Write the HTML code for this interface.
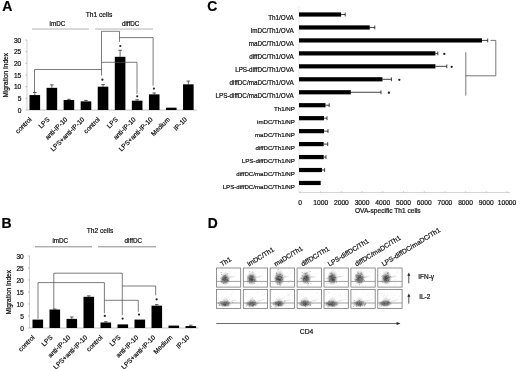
<!DOCTYPE html>
<html><head><meta charset="utf-8"><title>Figure</title>
<style>
html,body{margin:0;padding:0;background:#fff;}
body{width:520px;height:369px;overflow:hidden;}
svg{display:block;filter:blur(0.35px);}
svg text{font-family:"Liberation Sans",sans-serif;stroke:#000;stroke-width:0.2px;paint-order:stroke;}
</style></head><body>
<svg width="520" height="369" viewBox="0 0 520 369">
<rect width="520" height="369" fill="#fff"/>
<text x="2.3" y="10.8" font-size="14" text-anchor="start" font-weight="bold" fill="#000">A</text>
<text x="99.0" y="17.3" font-size="6.65" text-anchor="middle" font-weight="normal" fill="#111">Th1 cells</text>
<text x="57.38999999999999" y="26.3" font-size="6.3" text-anchor="middle" font-weight="normal" fill="#111">imDC</text>
<text x="130.63" y="26.3" font-size="6.3" text-anchor="middle" font-weight="normal" fill="#111">diffDC</text>
<line x1="32.0" y1="29.0" x2="89.0" y2="29.0" stroke="#999" stroke-width="0.75"/>
<line x1="95.0" y1="29.0" x2="153.0" y2="29.0" stroke="#999" stroke-width="0.75"/>
<line x1="27.0" y1="40.0" x2="27.0" y2="110.0" stroke="#bbb" stroke-width="0.7"/>
<line x1="27.0" y1="110.0" x2="197.0" y2="110.0" stroke="#aaa" stroke-width="0.7"/>
<line x1="25.5" y1="110.0" x2="27.0" y2="110.0" stroke="#999" stroke-width="0.6"/>
<text x="21.3" y="112.7" font-size="6.6" text-anchor="end" font-weight="normal" fill="#111">0</text>
<line x1="25.5" y1="98.33333333333333" x2="27.0" y2="98.33333333333333" stroke="#999" stroke-width="0.6"/>
<text x="21.3" y="101.03333333333333" font-size="6.6" text-anchor="end" font-weight="normal" fill="#111">5</text>
<line x1="25.5" y1="86.66666666666666" x2="27.0" y2="86.66666666666666" stroke="#999" stroke-width="0.6"/>
<text x="21.3" y="89.36666666666666" font-size="6.6" text-anchor="end" font-weight="normal" fill="#111">10</text>
<line x1="25.5" y1="75.0" x2="27.0" y2="75.0" stroke="#999" stroke-width="0.6"/>
<text x="21.3" y="77.7" font-size="6.6" text-anchor="end" font-weight="normal" fill="#111">15</text>
<line x1="25.5" y1="63.33333333333333" x2="27.0" y2="63.33333333333333" stroke="#999" stroke-width="0.6"/>
<text x="21.3" y="66.03333333333333" font-size="6.6" text-anchor="end" font-weight="normal" fill="#111">20</text>
<line x1="25.5" y1="51.666666666666664" x2="27.0" y2="51.666666666666664" stroke="#999" stroke-width="0.6"/>
<text x="21.3" y="54.36666666666667" font-size="6.6" text-anchor="end" font-weight="normal" fill="#111">25</text>
<line x1="25.5" y1="40.0" x2="27.0" y2="40.0" stroke="#999" stroke-width="0.6"/>
<text x="21.3" y="42.7" font-size="6.6" text-anchor="end" font-weight="normal" fill="#111">30</text>
<text x="8.1" y="75.3" font-size="6.5" text-anchor="middle" font-weight="normal" fill="#111" transform="rotate(-90 8.1 75.3)">Migration Index</text>
<rect x="29.50" y="95.07" width="10.60" height="14.93" fill="#000"/>
<line x1="34.8" y1="95.06666666666666" x2="34.8" y2="92.5" stroke="#222" stroke-width="0.7"/>
<line x1="33.0" y1="92.5" x2="36.599999999999994" y2="92.5" stroke="#222" stroke-width="0.7"/>
<text x="32.099999999999994" y="119.9" font-size="6.6" text-anchor="end" font-weight="normal" fill="#111" transform="rotate(-45 32.099999999999994 119.9)">control</text>
<rect x="46.56" y="87.83" width="10.60" height="22.17" fill="#000"/>
<line x1="51.86" y1="87.83333333333333" x2="51.86" y2="84.8" stroke="#222" stroke-width="0.7"/>
<line x1="50.06" y1="84.8" x2="53.66" y2="84.8" stroke="#222" stroke-width="0.7"/>
<text x="50.06" y="119.9" font-size="6.6" text-anchor="end" font-weight="normal" fill="#111" transform="rotate(-45 50.06 119.9)">LPS</text>
<rect x="63.62" y="99.97" width="10.60" height="10.03" fill="#000"/>
<line x1="68.92" y1="99.96666666666667" x2="68.92" y2="99.26666666666667" stroke="#222" stroke-width="0.7"/>
<line x1="67.12" y1="99.26666666666667" x2="70.72" y2="99.26666666666667" stroke="#222" stroke-width="0.7"/>
<text x="67.92" y="119.9" font-size="6.6" text-anchor="end" font-weight="normal" fill="#111" transform="rotate(-45 67.92 119.9)">anti-IP-10</text>
<rect x="80.68" y="101.37" width="10.60" height="8.63" fill="#000"/>
<line x1="85.97999999999999" y1="101.36666666666666" x2="85.97999999999999" y2="100.43333333333332" stroke="#222" stroke-width="0.7"/>
<line x1="84.17999999999999" y1="100.43333333333332" x2="87.77999999999999" y2="100.43333333333332" stroke="#222" stroke-width="0.7"/>
<text x="84.97999999999999" y="119.9" font-size="6.6" text-anchor="end" font-weight="normal" fill="#111" transform="rotate(-45 84.97999999999999 119.9)">LPS+anti-IP-10</text>
<rect x="97.74" y="86.67" width="10.60" height="23.33" fill="#000"/>
<line x1="103.03999999999999" y1="86.66666666666666" x2="103.03999999999999" y2="84.56666666666666" stroke="#222" stroke-width="0.7"/>
<line x1="101.24" y1="84.56666666666666" x2="104.83999999999999" y2="84.56666666666666" stroke="#222" stroke-width="0.7"/>
<text x="100.33999999999999" y="119.9" font-size="6.6" text-anchor="end" font-weight="normal" fill="#111" transform="rotate(-45 100.33999999999999 119.9)">control</text>
<rect x="114.80" y="56.80" width="10.60" height="53.20" fill="#000"/>
<line x1="120.1" y1="56.8" x2="120.1" y2="50.266666666666666" stroke="#222" stroke-width="0.7"/>
<line x1="118.3" y1="50.266666666666666" x2="121.89999999999999" y2="50.266666666666666" stroke="#222" stroke-width="0.7"/>
<text x="118.3" y="119.9" font-size="6.6" text-anchor="end" font-weight="normal" fill="#111" transform="rotate(-45 118.3 119.9)">LPS</text>
<rect x="131.86" y="100.67" width="10.60" height="9.33" fill="#000"/>
<line x1="137.16" y1="100.66666666666667" x2="137.16" y2="99.73333333333333" stroke="#222" stroke-width="0.7"/>
<line x1="135.35999999999999" y1="99.73333333333333" x2="138.96" y2="99.73333333333333" stroke="#222" stroke-width="0.7"/>
<text x="136.16" y="119.9" font-size="6.6" text-anchor="end" font-weight="normal" fill="#111" transform="rotate(-45 136.16 119.9)">anti-IP-10</text>
<rect x="148.92" y="94.37" width="10.60" height="15.63" fill="#000"/>
<line x1="154.22" y1="94.36666666666666" x2="154.22" y2="92.96666666666665" stroke="#222" stroke-width="0.7"/>
<line x1="152.42" y1="92.96666666666665" x2="156.02" y2="92.96666666666665" stroke="#222" stroke-width="0.7"/>
<text x="153.22" y="119.9" font-size="6.6" text-anchor="end" font-weight="normal" fill="#111" transform="rotate(-45 153.22 119.9)">LPS+anti-IP-10</text>
<rect x="165.98" y="107.67" width="10.60" height="2.33" fill="#000"/>
<text x="170.28" y="119.9" font-size="6.6" text-anchor="end" font-weight="normal" fill="#111" transform="rotate(-45 170.28 119.9)">Medium</text>
<rect x="183.04" y="84.33" width="10.60" height="25.67" fill="#000"/>
<line x1="188.34" y1="84.33333333333333" x2="188.34" y2="81.06666666666666" stroke="#222" stroke-width="0.7"/>
<line x1="186.54" y1="81.06666666666666" x2="190.14000000000001" y2="81.06666666666666" stroke="#222" stroke-width="0.7"/>
<text x="187.34" y="119.9" font-size="6.6" text-anchor="end" font-weight="normal" fill="#111" transform="rotate(-45 187.34 119.9)">IP-10</text>
<polyline points="34.50,92.00 34.50,69.50 101.50,69.50" fill="none" stroke="#505050" stroke-width="0.75"/>
<polyline points="101.50,75.60 101.50,31.30 119.50,31.30 119.50,41.90" fill="none" stroke="#505050" stroke-width="0.75"/>
<polyline points="119.50,37.60 153.10,37.60 153.10,85.60" fill="none" stroke="#505050" stroke-width="0.75"/>
<polyline points="101.50,62.30 137.00,62.30 137.00,93.70" fill="none" stroke="#505050" stroke-width="0.75"/>
<circle cx="102.40" cy="79.70" r="1.1" fill="#222"/>
<circle cx="120.30" cy="46.00" r="1.1" fill="#222"/>
<circle cx="153.90" cy="88.60" r="1.1" fill="#222"/>
<circle cx="137.20" cy="96.30" r="1.1" fill="#222"/>
<text x="1.6" y="228.2" font-size="14" text-anchor="start" font-weight="bold" fill="#000">B</text>
<text x="100.0" y="233.3" font-size="6.65" text-anchor="middle" font-weight="normal" fill="#111">Th2 cells</text>
<text x="60.3" y="243.0" font-size="6.3" text-anchor="middle" font-weight="normal" fill="#111">imDC</text>
<text x="133.3" y="243.0" font-size="6.3" text-anchor="middle" font-weight="normal" fill="#111">diffDC</text>
<line x1="35.0" y1="246.8" x2="92.0" y2="246.8" stroke="#666" stroke-width="0.75"/>
<line x1="98.0" y1="246.8" x2="156.0" y2="246.8" stroke="#666" stroke-width="0.75"/>
<line x1="29.5" y1="256.0" x2="29.5" y2="328.0" stroke="#bbb" stroke-width="0.7"/>
<line x1="29.5" y1="328.0" x2="198.6" y2="328.0" stroke="#aaa" stroke-width="0.7"/>
<line x1="28.0" y1="328.0" x2="29.5" y2="328.0" stroke="#999" stroke-width="0.6"/>
<text x="23.8" y="330.7" font-size="6.6" text-anchor="end" font-weight="normal" fill="#111">0</text>
<line x1="28.0" y1="316.0" x2="29.5" y2="316.0" stroke="#999" stroke-width="0.6"/>
<text x="23.8" y="318.7" font-size="6.6" text-anchor="end" font-weight="normal" fill="#111">5</text>
<line x1="28.0" y1="304.0" x2="29.5" y2="304.0" stroke="#999" stroke-width="0.6"/>
<text x="23.8" y="306.7" font-size="6.6" text-anchor="end" font-weight="normal" fill="#111">10</text>
<line x1="28.0" y1="292.0" x2="29.5" y2="292.0" stroke="#999" stroke-width="0.6"/>
<text x="23.8" y="294.7" font-size="6.6" text-anchor="end" font-weight="normal" fill="#111">15</text>
<line x1="28.0" y1="280.0" x2="29.5" y2="280.0" stroke="#999" stroke-width="0.6"/>
<text x="23.8" y="282.7" font-size="6.6" text-anchor="end" font-weight="normal" fill="#111">20</text>
<line x1="28.0" y1="268.0" x2="29.5" y2="268.0" stroke="#999" stroke-width="0.6"/>
<text x="23.8" y="270.7" font-size="6.6" text-anchor="end" font-weight="normal" fill="#111">25</text>
<line x1="28.0" y1="256.0" x2="29.5" y2="256.0" stroke="#999" stroke-width="0.6"/>
<text x="23.8" y="258.7" font-size="6.6" text-anchor="end" font-weight="normal" fill="#111">30</text>
<text x="10.8" y="292.3" font-size="6.5" text-anchor="middle" font-weight="normal" fill="#111" transform="rotate(-90 10.8 292.3)">Migration Index</text>
<rect x="32.50" y="319.60" width="10.60" height="8.40" fill="#000"/>
<text x="35.099999999999994" y="337.9" font-size="6.6" text-anchor="end" font-weight="normal" fill="#111" transform="rotate(-45 35.099999999999994 337.9)">control</text>
<rect x="49.50" y="309.52" width="10.60" height="18.48" fill="#000"/>
<line x1="54.8" y1="309.52" x2="54.8" y2="309.03999999999996" stroke="#222" stroke-width="0.7"/>
<line x1="53.0" y1="309.03999999999996" x2="56.599999999999994" y2="309.03999999999996" stroke="#222" stroke-width="0.7"/>
<text x="53.0" y="337.9" font-size="6.6" text-anchor="end" font-weight="normal" fill="#111" transform="rotate(-45 53.0 337.9)">LPS</text>
<rect x="66.50" y="318.88" width="10.60" height="9.12" fill="#000"/>
<line x1="71.8" y1="318.88" x2="71.8" y2="316.96" stroke="#222" stroke-width="0.7"/>
<line x1="70.0" y1="316.96" x2="73.6" y2="316.96" stroke="#222" stroke-width="0.7"/>
<text x="70.8" y="337.9" font-size="6.6" text-anchor="end" font-weight="normal" fill="#111" transform="rotate(-45 70.8 337.9)">anti-IP-10</text>
<rect x="83.50" y="296.80" width="10.60" height="31.20" fill="#000"/>
<line x1="88.8" y1="296.8" x2="88.8" y2="295.84000000000003" stroke="#222" stroke-width="0.7"/>
<line x1="87.0" y1="295.84000000000003" x2="90.6" y2="295.84000000000003" stroke="#222" stroke-width="0.7"/>
<text x="87.8" y="337.9" font-size="6.6" text-anchor="end" font-weight="normal" fill="#111" transform="rotate(-45 87.8 337.9)">LPS+anti-IP-10</text>
<rect x="100.50" y="322.48" width="10.60" height="5.52" fill="#000"/>
<line x1="105.8" y1="322.48" x2="105.8" y2="321.76" stroke="#222" stroke-width="0.7"/>
<line x1="104.0" y1="321.76" x2="107.6" y2="321.76" stroke="#222" stroke-width="0.7"/>
<text x="103.1" y="337.9" font-size="6.6" text-anchor="end" font-weight="normal" fill="#111" transform="rotate(-45 103.1 337.9)">control</text>
<rect x="117.50" y="324.40" width="10.60" height="3.60" fill="#000"/>
<text x="121.0" y="337.9" font-size="6.6" text-anchor="end" font-weight="normal" fill="#111" transform="rotate(-45 121.0 337.9)">LPS</text>
<rect x="134.50" y="319.60" width="10.60" height="8.40" fill="#000"/>
<text x="138.8" y="337.9" font-size="6.6" text-anchor="end" font-weight="normal" fill="#111" transform="rotate(-45 138.8 337.9)">anti-IP-10</text>
<rect x="151.50" y="305.68" width="10.60" height="22.32" fill="#000"/>
<line x1="156.8" y1="305.68" x2="156.8" y2="304.6" stroke="#222" stroke-width="0.7"/>
<line x1="155.0" y1="304.6" x2="158.60000000000002" y2="304.6" stroke="#222" stroke-width="0.7"/>
<text x="155.8" y="337.9" font-size="6.6" text-anchor="end" font-weight="normal" fill="#111" transform="rotate(-45 155.8 337.9)">LPS+anti-IP-10</text>
<rect x="168.50" y="325.60" width="10.60" height="2.40" fill="#000"/>
<text x="172.8" y="337.9" font-size="6.6" text-anchor="end" font-weight="normal" fill="#111" transform="rotate(-45 172.8 337.9)">Medium</text>
<rect x="185.50" y="326.08" width="10.60" height="1.92" fill="#000"/>
<line x1="190.8" y1="326.08" x2="190.8" y2="325.24" stroke="#222" stroke-width="0.7"/>
<line x1="189.0" y1="325.24" x2="192.60000000000002" y2="325.24" stroke="#222" stroke-width="0.7"/>
<text x="189.8" y="337.9" font-size="6.6" text-anchor="end" font-weight="normal" fill="#111" transform="rotate(-45 189.8 337.9)">IP-10</text>
<polyline points="38.00,318.80 38.00,282.60 104.40,282.60 104.40,313.20" fill="none" stroke="#505050" stroke-width="0.75"/>
<polyline points="53.80,309.00 53.80,273.20 122.30,273.20 122.30,315.20" fill="none" stroke="#505050" stroke-width="0.75"/>
<polyline points="122.30,286.00 155.70,286.00 155.70,295.30" fill="none" stroke="#505050" stroke-width="0.75"/>
<polyline points="104.40,300.30 138.30,300.30 138.30,311.80" fill="none" stroke="#505050" stroke-width="0.75"/>
<circle cx="104.80" cy="315.90" r="1.1" fill="#222"/>
<circle cx="122.60" cy="318.60" r="1.1" fill="#222"/>
<circle cx="139.00" cy="314.60" r="1.1" fill="#222"/>
<circle cx="156.60" cy="299.30" r="1.1" fill="#222"/>
<text x="207.3" y="10.6" font-size="13.8" text-anchor="start" font-weight="bold" fill="#000">C</text>
<line x1="299.0" y1="6" x2="299.0" y2="192.5" stroke="#ddd" stroke-width="0.7"/>
<line x1="299.0" y1="192.5" x2="510" y2="192.5" stroke="#c4c4c4" stroke-width="0.7"/>
<text x="293.7" y="20.1" font-size="6.3" text-anchor="end" font-weight="normal" fill="#111">Th1/OVA</text>
<rect x="299.00" y="12.40" width="42.10" height="4.20" fill="#000"/>
<line x1="341.1" y1="14.5" x2="345.2" y2="14.5" stroke="#111" stroke-width="0.8"/>
<line x1="345.2" y1="12.6" x2="345.2" y2="16.4" stroke="#111" stroke-width="0.8"/>
<text x="293.7" y="33.06" font-size="6.3" text-anchor="end" font-weight="normal" fill="#111">imDC/Th1/OVA</text>
<rect x="299.00" y="25.36" width="70.80" height="4.20" fill="#000"/>
<line x1="369.8" y1="27.46" x2="374.8" y2="27.46" stroke="#111" stroke-width="0.8"/>
<line x1="374.8" y1="25.560000000000002" x2="374.8" y2="29.36" stroke="#111" stroke-width="0.8"/>
<text x="293.7" y="46.02" font-size="6.3" text-anchor="end" font-weight="normal" fill="#111">maDC/Th1/OVA</text>
<rect x="299.00" y="38.32" width="183.00" height="4.20" fill="#000"/>
<line x1="482" y1="40.42" x2="487.7" y2="40.42" stroke="#111" stroke-width="0.8"/>
<line x1="487.7" y1="38.52" x2="487.7" y2="42.32" stroke="#111" stroke-width="0.8"/>
<text x="293.7" y="58.980000000000004" font-size="6.3" text-anchor="end" font-weight="normal" fill="#111">diffDC/Th1/OVA</text>
<rect x="299.00" y="51.28" width="136.40" height="4.20" fill="#000"/>
<line x1="435.4" y1="53.38" x2="437.8" y2="53.38" stroke="#111" stroke-width="0.8"/>
<line x1="437.8" y1="51.480000000000004" x2="437.8" y2="55.28" stroke="#111" stroke-width="0.8"/>
<circle cx="444.30" cy="53.88" r="1.15" fill="#222"/>
<text x="293.7" y="71.94" font-size="6.3" text-anchor="end" font-weight="normal" fill="#111">LPS-diffDC/Th1/OVA</text>
<rect x="299.00" y="64.24" width="136.40" height="4.20" fill="#000"/>
<line x1="435.4" y1="66.34" x2="446.8" y2="66.34" stroke="#111" stroke-width="0.8"/>
<line x1="446.8" y1="64.44" x2="446.8" y2="68.24000000000001" stroke="#111" stroke-width="0.8"/>
<circle cx="451.70" cy="66.84" r="1.15" fill="#222"/>
<text x="293.7" y="84.9" font-size="6.3" text-anchor="end" font-weight="normal" fill="#111">diffDC/maDC/Th1/OVA</text>
<rect x="299.00" y="77.20" width="83.50" height="4.20" fill="#000"/>
<line x1="382.5" y1="79.30000000000001" x2="391.4" y2="79.30000000000001" stroke="#111" stroke-width="0.8"/>
<line x1="391.4" y1="77.4" x2="391.4" y2="81.20000000000002" stroke="#111" stroke-width="0.8"/>
<circle cx="399.30" cy="79.80" r="1.15" fill="#222"/>
<text x="293.7" y="97.86" font-size="6.3" text-anchor="end" font-weight="normal" fill="#111">LPS-diffDC/maDC/Th1/OVA</text>
<rect x="299.00" y="90.16" width="51.80" height="4.20" fill="#000"/>
<line x1="350.8" y1="92.26" x2="381" y2="92.26" stroke="#111" stroke-width="0.8"/>
<line x1="381" y1="90.36" x2="381" y2="94.16000000000001" stroke="#111" stroke-width="0.8"/>
<circle cx="388.90" cy="92.76" r="1.15" fill="#222"/>
<text x="294.9" y="110.82" font-size="6.15" text-anchor="end" font-weight="normal" fill="#111">Th1/NP</text>
<rect x="299.00" y="103.12" width="26.50" height="4.20" fill="#000"/>
<line x1="325.5" y1="105.22" x2="329.2" y2="105.22" stroke="#111" stroke-width="0.8"/>
<line x1="329.2" y1="103.32" x2="329.2" y2="107.12" stroke="#111" stroke-width="0.8"/>
<text x="294.9" y="123.78" font-size="6.15" text-anchor="end" font-weight="normal" fill="#111">imDC/Th1/NP</text>
<rect x="299.00" y="116.08" width="25.00" height="4.20" fill="#000"/>
<line x1="324" y1="118.18" x2="327" y2="118.18" stroke="#111" stroke-width="0.8"/>
<line x1="327" y1="116.28" x2="327" y2="120.08000000000001" stroke="#111" stroke-width="0.8"/>
<text x="294.9" y="136.74" font-size="6.15" text-anchor="end" font-weight="normal" fill="#111">maDC/Th1/NP</text>
<rect x="299.00" y="129.04" width="25.00" height="4.20" fill="#000"/>
<line x1="324" y1="131.14000000000001" x2="328" y2="131.14000000000001" stroke="#111" stroke-width="0.8"/>
<line x1="328" y1="129.24" x2="328" y2="133.04000000000002" stroke="#111" stroke-width="0.8"/>
<text x="294.9" y="149.70000000000002" font-size="6.15" text-anchor="end" font-weight="normal" fill="#111">diffDC/Th1/NP</text>
<rect x="299.00" y="142.00" width="24.70" height="4.20" fill="#000"/>
<line x1="323.7" y1="144.10000000000002" x2="327.7" y2="144.10000000000002" stroke="#111" stroke-width="0.8"/>
<line x1="327.7" y1="142.20000000000002" x2="327.7" y2="146.00000000000003" stroke="#111" stroke-width="0.8"/>
<text x="294.9" y="162.66" font-size="6.15" text-anchor="end" font-weight="normal" fill="#111">LPS-diffDC/Th1/NP</text>
<rect x="299.00" y="154.96" width="24.70" height="4.20" fill="#000"/>
<line x1="323.7" y1="157.06" x2="326" y2="157.06" stroke="#111" stroke-width="0.8"/>
<line x1="326" y1="155.16" x2="326" y2="158.96" stroke="#111" stroke-width="0.8"/>
<text x="294.9" y="175.62" font-size="6.15" text-anchor="end" font-weight="normal" fill="#111">diffDC/maDC/Th1/NP</text>
<rect x="299.00" y="167.92" width="23.00" height="4.20" fill="#000"/>
<line x1="322" y1="170.02" x2="324.6" y2="170.02" stroke="#111" stroke-width="0.8"/>
<line x1="324.6" y1="168.12" x2="324.6" y2="171.92000000000002" stroke="#111" stroke-width="0.8"/>
<text x="294.9" y="188.58" font-size="6.15" text-anchor="end" font-weight="normal" fill="#111">LPS-diffDC/maDC/Th1/NP</text>
<rect x="299.00" y="180.88" width="21.70" height="4.20" fill="#000"/>
<line x1="300.0" y1="192.5" x2="300.0" y2="191.2" stroke="#aaa" stroke-width="0.6"/>
<text x="300.0" y="205.3" font-size="6.7" text-anchor="middle" font-weight="normal" fill="#111">0</text>
<line x1="320.7" y1="192.5" x2="320.7" y2="191.2" stroke="#aaa" stroke-width="0.6"/>
<text x="320.7" y="205.3" font-size="6.7" text-anchor="middle" font-weight="normal" fill="#111">1000</text>
<line x1="341.4" y1="192.5" x2="341.4" y2="191.2" stroke="#aaa" stroke-width="0.6"/>
<text x="341.4" y="205.3" font-size="6.7" text-anchor="middle" font-weight="normal" fill="#111">2000</text>
<line x1="362.1" y1="192.5" x2="362.1" y2="191.2" stroke="#aaa" stroke-width="0.6"/>
<text x="362.1" y="205.3" font-size="6.7" text-anchor="middle" font-weight="normal" fill="#111">3000</text>
<line x1="382.8" y1="192.5" x2="382.8" y2="191.2" stroke="#aaa" stroke-width="0.6"/>
<text x="382.8" y="205.3" font-size="6.7" text-anchor="middle" font-weight="normal" fill="#111">4000</text>
<line x1="403.5" y1="192.5" x2="403.5" y2="191.2" stroke="#aaa" stroke-width="0.6"/>
<text x="403.5" y="205.3" font-size="6.7" text-anchor="middle" font-weight="normal" fill="#111">5000</text>
<line x1="424.2" y1="192.5" x2="424.2" y2="191.2" stroke="#aaa" stroke-width="0.6"/>
<text x="424.2" y="205.3" font-size="6.7" text-anchor="middle" font-weight="normal" fill="#111">6000</text>
<line x1="444.9" y1="192.5" x2="444.9" y2="191.2" stroke="#aaa" stroke-width="0.6"/>
<text x="444.9" y="205.3" font-size="6.7" text-anchor="middle" font-weight="normal" fill="#111">7000</text>
<line x1="465.6" y1="192.5" x2="465.6" y2="191.2" stroke="#aaa" stroke-width="0.6"/>
<text x="465.6" y="205.3" font-size="6.7" text-anchor="middle" font-weight="normal" fill="#111">8000</text>
<line x1="486.29999999999995" y1="192.5" x2="486.29999999999995" y2="191.2" stroke="#aaa" stroke-width="0.6"/>
<text x="486.29999999999995" y="205.3" font-size="6.7" text-anchor="middle" font-weight="normal" fill="#111">9000</text>
<line x1="507.0" y1="192.5" x2="507.0" y2="191.2" stroke="#aaa" stroke-width="0.6"/>
<text x="507.0" y="205.3" font-size="6.7" text-anchor="middle" font-weight="normal" fill="#111">10000</text>
<text x="387.8" y="212.9" font-size="6.6" text-anchor="middle" font-weight="normal" fill="#111">OVA-specific Th1 cells</text>
<polyline points="490.50,40.40 495.80,40.40 495.80,75.80 465.80,75.80" fill="none" stroke="#555" stroke-width="0.8"/>
<polyline points="465.80,52.20 465.80,95.60" fill="none" stroke="#555" stroke-width="0.8"/>
<text x="207.8" y="227.5" font-size="13.8" text-anchor="start" font-weight="bold" fill="#000">D</text>
<defs><filter id="b" x="-20%" y="-20%" width="140%" height="140%"><feGaussianBlur stdDeviation="0.5"/></filter><radialGradient id="g"><stop offset="0" stop-color="#333" stop-opacity="0.85"/><stop offset="0.45" stop-color="#444" stop-opacity="0.6"/><stop offset="0.8" stop-color="#666" stop-opacity="0.18"/><stop offset="1" stop-color="#888" stop-opacity="0"/></radialGradient><radialGradient id="g2"><stop offset="0" stop-color="#555" stop-opacity="0.5"/><stop offset="0.6" stop-color="#777" stop-opacity="0.25"/><stop offset="1" stop-color="#999" stop-opacity="0"/></radialGradient></defs>
<text x="222.0" y="266.6" font-size="6.7" text-anchor="start" font-weight="normal" fill="#111" transform="rotate(-31.5 222.0 266.6)">Th1</text>
<rect x="216.40" y="268.0" width="24.3" height="19.10" fill="#fff" stroke="#777" stroke-width="0.8"/>
<clipPath id="c00"><rect x="216.80" y="268.4" width="23.5" height="18.30"/></clipPath>
<g clip-path="url(#c00)"><ellipse cx="225.40" cy="277.60" rx="5.32" ry="6.00" fill="url(#g2)"/><ellipse cx="225.00" cy="279.80" rx="5.60" ry="5.60" fill="url(#g)"/><ellipse cx="231.40" cy="276.90" rx="5.5" ry="1.3" fill="url(#g2)" opacity="0.45" transform="rotate(-12 231.40 276.90)"/><g fill="#222" opacity="0.45"><circle cx="224.5" cy="280.3" r="0.5"/><circle cx="224.5" cy="278.2" r="0.5"/><circle cx="223.1" cy="278.4" r="0.5"/><circle cx="227.2" cy="280.1" r="0.5"/><circle cx="227.1" cy="279.6" r="0.5"/><circle cx="225.8" cy="279.5" r="0.5"/><circle cx="221.7" cy="281.2" r="0.5"/><circle cx="226.0" cy="280.3" r="0.5"/><circle cx="221.6" cy="274.5" r="0.5"/><circle cx="223.2" cy="277.8" r="0.5"/><circle cx="225.6" cy="278.9" r="0.5"/><circle cx="226.0" cy="277.3" r="0.5"/><circle cx="225.6" cy="280.0" r="0.5"/><circle cx="223.7" cy="283.5" r="0.5"/><circle cx="226.1" cy="282.1" r="0.5"/><circle cx="223.8" cy="277.1" r="0.5"/><circle cx="224.3" cy="278.7" r="0.5"/><circle cx="226.3" cy="279.6" r="0.5"/><circle cx="224.1" cy="276.5" r="0.5"/><circle cx="224.0" cy="282.2" r="0.5"/><circle cx="223.4" cy="279.6" r="0.5"/><circle cx="225.9" cy="275.1" r="0.5"/><circle cx="225.1" cy="282.4" r="0.5"/><circle cx="221.0" cy="278.2" r="0.5"/><circle cx="224.8" cy="276.9" r="0.5"/><circle cx="226.0" cy="278.8" r="0.5"/><circle cx="222.1" cy="281.2" r="0.5"/><circle cx="226.3" cy="281.5" r="0.5"/><circle cx="227.9" cy="279.9" r="0.5"/><circle cx="225.2" cy="275.6" r="0.5"/><circle cx="226.2" cy="277.4" r="0.5"/><circle cx="224.1" cy="275.7" r="0.5"/><circle cx="223.1" cy="277.6" r="0.5"/><circle cx="227.6" cy="273.7" r="0.5"/><circle cx="222.1" cy="279.6" r="0.5"/><circle cx="227.9" cy="280.5" r="0.5"/><circle cx="221.2" cy="272.5" r="0.5"/><circle cx="225.7" cy="277.1" r="0.5"/><circle cx="222.8" cy="281.5" r="0.5"/><circle cx="227.2" cy="279.4" r="0.5"/><circle cx="225.5" cy="280.1" r="0.5"/><circle cx="228.2" cy="280.6" r="0.5"/><circle cx="226.0" cy="280.4" r="0.5"/><circle cx="221.9" cy="282.3" r="0.5"/><circle cx="226.9" cy="280.4" r="0.5"/></g><g fill="#fff" opacity="0.4"><circle cx="220.3" cy="277.0" r="0.45"/><circle cx="227.0" cy="273.3" r="0.45"/><circle cx="224.6" cy="282.2" r="0.45"/><circle cx="221.9" cy="284.0" r="0.45"/><circle cx="226.3" cy="278.5" r="0.45"/><circle cx="225.8" cy="281.0" r="0.45"/><circle cx="225.3" cy="282.6" r="0.45"/><circle cx="223.4" cy="277.7" r="0.45"/><circle cx="227.5" cy="279.1" r="0.45"/><circle cx="222.9" cy="282.0" r="0.45"/><circle cx="228.5" cy="277.6" r="0.45"/><circle cx="221.7" cy="278.6" r="0.45"/><circle cx="224.6" cy="278.1" r="0.45"/><circle cx="228.4" cy="275.8" r="0.45"/><circle cx="228.0" cy="275.0" r="0.45"/><circle cx="223.1" cy="281.0" r="0.45"/><circle cx="227.7" cy="281.7" r="0.45"/><circle cx="225.8" cy="279.4" r="0.45"/><circle cx="225.4" cy="280.8" r="0.45"/><circle cx="224.6" cy="279.9" r="0.45"/><circle cx="226.4" cy="279.0" r="0.45"/><circle cx="226.8" cy="280.8" r="0.45"/></g><g fill="#777" opacity="0.35" filter="url(#b)"><circle cx="218.9" cy="284.2" r="0.4"/><circle cx="230.7" cy="273.2" r="0.4"/><circle cx="223.4" cy="276.2" r="0.4"/><circle cx="225.7" cy="272.9" r="0.4"/><circle cx="235.4" cy="286.0" r="0.4"/><circle cx="227.7" cy="278.3" r="0.4"/><circle cx="220.1" cy="272.5" r="0.4"/><circle cx="225.3" cy="275.0" r="0.4"/><circle cx="235.0" cy="273.4" r="0.4"/><circle cx="218.9" cy="285.4" r="0.4"/><circle cx="229.0" cy="273.2" r="0.4"/><circle cx="229.3" cy="271.4" r="0.4"/><circle cx="229.0" cy="285.8" r="0.4"/><circle cx="235.7" cy="281.5" r="0.4"/></g></g>
<line x1="216.4" y1="281.4" x2="240.70000000000002" y2="281.4" stroke="#777" stroke-width="0.7"/>
<rect x="216.40" y="289.4" width="24.3" height="19.00" fill="#fff" stroke="#777" stroke-width="0.8"/>
<clipPath id="c01"><rect x="216.80" y="289.79999999999995" width="23.5" height="18.20"/></clipPath>
<g clip-path="url(#c01)"><ellipse cx="225.30" cy="302.10" rx="4.32" ry="5.55" fill="url(#g2)" opacity="0.7"/><ellipse cx="224.80" cy="303.70" rx="7.20" ry="3.70" fill="url(#g)"/><ellipse cx="232.40" cy="300.80" rx="6" ry="1.2" fill="url(#g2)" opacity="0.4" transform="rotate(-14 232.40 300.80)"/><g fill="#222" opacity="0.45"><circle cx="224.6" cy="304.9" r="0.5"/><circle cx="227.2" cy="305.6" r="0.5"/><circle cx="220.0" cy="303.2" r="0.5"/><circle cx="223.8" cy="304.5" r="0.5"/><circle cx="227.9" cy="300.2" r="0.5"/><circle cx="227.8" cy="301.8" r="0.5"/><circle cx="226.7" cy="301.8" r="0.5"/><circle cx="225.3" cy="305.3" r="0.5"/><circle cx="224.4" cy="303.9" r="0.5"/><circle cx="227.0" cy="303.9" r="0.5"/><circle cx="224.6" cy="305.7" r="0.5"/><circle cx="227.7" cy="303.3" r="0.5"/><circle cx="232.5" cy="302.2" r="0.5"/><circle cx="227.4" cy="303.4" r="0.5"/><circle cx="225.2" cy="304.6" r="0.5"/><circle cx="225.4" cy="304.5" r="0.5"/><circle cx="220.5" cy="301.7" r="0.5"/><circle cx="226.5" cy="302.4" r="0.5"/><circle cx="221.9" cy="301.8" r="0.5"/><circle cx="228.3" cy="304.7" r="0.5"/><circle cx="228.9" cy="302.5" r="0.5"/><circle cx="224.8" cy="302.2" r="0.5"/><circle cx="226.9" cy="305.8" r="0.5"/><circle cx="222.3" cy="305.7" r="0.5"/><circle cx="227.6" cy="303.5" r="0.5"/><circle cx="219.3" cy="305.5" r="0.5"/><circle cx="224.5" cy="302.9" r="0.5"/><circle cx="225.9" cy="304.2" r="0.5"/><circle cx="229.0" cy="302.4" r="0.5"/><circle cx="228.0" cy="305.6" r="0.5"/><circle cx="228.9" cy="303.5" r="0.5"/><circle cx="222.7" cy="305.0" r="0.5"/><circle cx="225.1" cy="303.9" r="0.5"/><circle cx="228.8" cy="303.4" r="0.5"/><circle cx="218.4" cy="303.2" r="0.5"/><circle cx="219.6" cy="304.8" r="0.5"/><circle cx="225.7" cy="302.9" r="0.5"/><circle cx="224.8" cy="304.8" r="0.5"/><circle cx="225.0" cy="305.4" r="0.5"/><circle cx="224.6" cy="305.1" r="0.5"/><circle cx="229.0" cy="305.8" r="0.5"/><circle cx="222.9" cy="304.8" r="0.5"/><circle cx="219.5" cy="302.3" r="0.5"/><circle cx="219.3" cy="305.1" r="0.5"/><circle cx="221.4" cy="303.7" r="0.5"/></g><g fill="#fff" opacity="0.4"><circle cx="224.2" cy="303.7" r="0.45"/><circle cx="222.8" cy="304.1" r="0.45"/><circle cx="230.8" cy="303.8" r="0.45"/><circle cx="226.6" cy="305.3" r="0.45"/><circle cx="224.1" cy="301.7" r="0.45"/><circle cx="222.9" cy="305.4" r="0.45"/><circle cx="219.3" cy="302.8" r="0.45"/><circle cx="228.2" cy="304.9" r="0.45"/><circle cx="224.8" cy="305.0" r="0.45"/><circle cx="225.4" cy="301.9" r="0.45"/><circle cx="219.5" cy="302.7" r="0.45"/><circle cx="227.9" cy="302.8" r="0.45"/><circle cx="221.8" cy="302.5" r="0.45"/><circle cx="219.7" cy="303.5" r="0.45"/><circle cx="220.8" cy="304.3" r="0.45"/><circle cx="216.9" cy="304.2" r="0.45"/><circle cx="222.6" cy="300.7" r="0.45"/><circle cx="227.2" cy="303.3" r="0.45"/><circle cx="217.3" cy="302.3" r="0.45"/><circle cx="225.8" cy="303.0" r="0.45"/><circle cx="227.4" cy="304.9" r="0.45"/><circle cx="227.0" cy="304.2" r="0.45"/></g><g fill="#777" opacity="0.35" filter="url(#b)"><circle cx="219.9" cy="302.4" r="0.4"/><circle cx="234.1" cy="305.9" r="0.4"/><circle cx="221.5" cy="303.1" r="0.4"/><circle cx="231.6" cy="294.5" r="0.4"/><circle cx="236.1" cy="306.9" r="0.4"/><circle cx="222.8" cy="306.7" r="0.4"/><circle cx="226.4" cy="299.7" r="0.4"/><circle cx="238.2" cy="304.9" r="0.4"/><circle cx="221.6" cy="298.9" r="0.4"/><circle cx="228.7" cy="297.5" r="0.4"/><circle cx="222.3" cy="297.2" r="0.4"/><circle cx="232.8" cy="292.7" r="0.4"/><circle cx="229.5" cy="299.0" r="0.4"/><circle cx="218.8" cy="297.4" r="0.4"/></g></g>
<line x1="216.4" y1="303.0" x2="240.70000000000002" y2="303.0" stroke="#777" stroke-width="0.7"/>
<text x="248.9" y="266.6" font-size="6.7" text-anchor="start" font-weight="normal" fill="#111" transform="rotate(-31.5 248.9 266.6)">imDC/Th1</text>
<rect x="243.30" y="268.0" width="24.3" height="19.10" fill="#fff" stroke="#777" stroke-width="0.8"/>
<clipPath id="c10"><rect x="243.70" y="268.4" width="23.5" height="18.30"/></clipPath>
<g clip-path="url(#c10)"><ellipse cx="251.90" cy="277.20" rx="5.32" ry="6.50" fill="url(#g2)"/><ellipse cx="251.50" cy="279.40" rx="5.60" ry="6.00" fill="url(#g)"/><ellipse cx="258.30" cy="276.90" rx="5.5" ry="1.3" fill="url(#g2)" opacity="0.45" transform="rotate(-12 258.30 276.90)"/><g fill="#222" opacity="0.45"><circle cx="249.8" cy="276.4" r="0.5"/><circle cx="256.8" cy="281.6" r="0.5"/><circle cx="252.8" cy="271.9" r="0.5"/><circle cx="252.7" cy="279.8" r="0.5"/><circle cx="254.9" cy="279.7" r="0.5"/><circle cx="251.4" cy="280.0" r="0.5"/><circle cx="247.6" cy="281.3" r="0.5"/><circle cx="252.1" cy="276.8" r="0.5"/><circle cx="254.2" cy="283.3" r="0.5"/><circle cx="248.7" cy="276.9" r="0.5"/><circle cx="252.1" cy="279.1" r="0.5"/><circle cx="250.7" cy="276.1" r="0.5"/><circle cx="255.7" cy="281.3" r="0.5"/><circle cx="249.1" cy="275.1" r="0.5"/><circle cx="254.9" cy="281.2" r="0.5"/><circle cx="255.1" cy="280.7" r="0.5"/><circle cx="249.8" cy="279.3" r="0.5"/><circle cx="247.2" cy="276.7" r="0.5"/><circle cx="251.4" cy="280.0" r="0.5"/><circle cx="250.0" cy="278.3" r="0.5"/><circle cx="252.4" cy="279.6" r="0.5"/><circle cx="252.8" cy="279.1" r="0.5"/><circle cx="250.9" cy="280.7" r="0.5"/><circle cx="251.6" cy="276.5" r="0.5"/><circle cx="250.2" cy="278.6" r="0.5"/><circle cx="251.3" cy="279.0" r="0.5"/><circle cx="251.5" cy="279.1" r="0.5"/><circle cx="251.2" cy="275.3" r="0.5"/><circle cx="252.3" cy="281.3" r="0.5"/><circle cx="252.4" cy="278.1" r="0.5"/><circle cx="252.4" cy="276.1" r="0.5"/><circle cx="247.7" cy="278.8" r="0.5"/><circle cx="249.6" cy="280.5" r="0.5"/><circle cx="249.3" cy="271.8" r="0.5"/><circle cx="249.4" cy="282.7" r="0.5"/><circle cx="250.7" cy="275.0" r="0.5"/><circle cx="250.0" cy="280.0" r="0.5"/><circle cx="252.5" cy="279.1" r="0.5"/><circle cx="254.5" cy="280.4" r="0.5"/><circle cx="251.5" cy="280.2" r="0.5"/><circle cx="254.8" cy="281.1" r="0.5"/><circle cx="253.5" cy="275.8" r="0.5"/><circle cx="251.2" cy="280.5" r="0.5"/><circle cx="250.9" cy="281.4" r="0.5"/><circle cx="252.7" cy="281.0" r="0.5"/></g><g fill="#fff" opacity="0.4"><circle cx="251.0" cy="286.5" r="0.45"/><circle cx="254.5" cy="277.9" r="0.45"/><circle cx="251.7" cy="286.7" r="0.45"/><circle cx="250.7" cy="281.3" r="0.45"/><circle cx="253.9" cy="278.6" r="0.45"/><circle cx="248.7" cy="279.2" r="0.45"/><circle cx="252.4" cy="282.1" r="0.45"/><circle cx="253.4" cy="278.7" r="0.45"/><circle cx="253.5" cy="280.3" r="0.45"/><circle cx="252.0" cy="278.8" r="0.45"/><circle cx="250.9" cy="280.7" r="0.45"/><circle cx="249.0" cy="276.6" r="0.45"/><circle cx="251.5" cy="274.0" r="0.45"/><circle cx="250.5" cy="272.3" r="0.45"/><circle cx="249.9" cy="280.4" r="0.45"/><circle cx="252.9" cy="278.4" r="0.45"/><circle cx="250.9" cy="274.2" r="0.45"/><circle cx="255.9" cy="280.2" r="0.45"/><circle cx="254.1" cy="275.8" r="0.45"/><circle cx="251.1" cy="272.9" r="0.45"/><circle cx="253.4" cy="281.5" r="0.45"/><circle cx="246.9" cy="278.4" r="0.45"/></g><g fill="#777" opacity="0.35" filter="url(#b)"><circle cx="261.4" cy="283.5" r="0.4"/><circle cx="257.0" cy="284.5" r="0.4"/><circle cx="259.0" cy="281.5" r="0.4"/><circle cx="249.9" cy="271.5" r="0.4"/><circle cx="248.0" cy="276.4" r="0.4"/><circle cx="247.4" cy="283.6" r="0.4"/><circle cx="256.5" cy="280.5" r="0.4"/><circle cx="257.8" cy="281.3" r="0.4"/><circle cx="255.1" cy="271.1" r="0.4"/><circle cx="261.3" cy="282.3" r="0.4"/><circle cx="255.4" cy="279.1" r="0.4"/><circle cx="258.5" cy="272.0" r="0.4"/><circle cx="260.0" cy="274.8" r="0.4"/><circle cx="246.8" cy="275.0" r="0.4"/></g></g>
<line x1="243.3" y1="281.4" x2="267.6" y2="281.4" stroke="#777" stroke-width="0.7"/>
<rect x="243.30" y="289.4" width="24.3" height="19.00" fill="#fff" stroke="#777" stroke-width="0.8"/>
<clipPath id="c11"><rect x="243.70" y="289.79999999999995" width="23.5" height="18.20"/></clipPath>
<g clip-path="url(#c11)"><ellipse cx="252.00" cy="302.10" rx="4.32" ry="5.55" fill="url(#g2)" opacity="0.7"/><ellipse cx="251.50" cy="303.70" rx="7.20" ry="3.70" fill="url(#g)"/><ellipse cx="259.30" cy="300.80" rx="6" ry="1.2" fill="url(#g2)" opacity="0.4" transform="rotate(-14 259.30 300.80)"/><g fill="#222" opacity="0.45"><circle cx="251.3" cy="302.8" r="0.5"/><circle cx="251.0" cy="300.2" r="0.5"/><circle cx="248.8" cy="303.7" r="0.5"/><circle cx="247.3" cy="304.0" r="0.5"/><circle cx="251.9" cy="301.9" r="0.5"/><circle cx="250.8" cy="303.3" r="0.5"/><circle cx="252.8" cy="304.5" r="0.5"/><circle cx="251.4" cy="302.6" r="0.5"/><circle cx="251.1" cy="303.6" r="0.5"/><circle cx="253.6" cy="304.1" r="0.5"/><circle cx="249.5" cy="301.9" r="0.5"/><circle cx="250.5" cy="302.7" r="0.5"/><circle cx="248.4" cy="303.5" r="0.5"/><circle cx="250.1" cy="303.8" r="0.5"/><circle cx="253.0" cy="303.2" r="0.5"/><circle cx="258.0" cy="303.3" r="0.5"/><circle cx="254.6" cy="303.9" r="0.5"/><circle cx="254.6" cy="300.6" r="0.5"/><circle cx="249.4" cy="304.0" r="0.5"/><circle cx="253.2" cy="306.7" r="0.5"/><circle cx="252.4" cy="305.4" r="0.5"/><circle cx="253.6" cy="304.9" r="0.5"/><circle cx="252.9" cy="303.5" r="0.5"/><circle cx="252.9" cy="302.3" r="0.5"/><circle cx="254.8" cy="302.4" r="0.5"/><circle cx="252.2" cy="306.5" r="0.5"/><circle cx="250.9" cy="303.7" r="0.5"/><circle cx="254.8" cy="303.7" r="0.5"/><circle cx="249.2" cy="304.0" r="0.5"/><circle cx="253.1" cy="304.6" r="0.5"/><circle cx="249.3" cy="306.0" r="0.5"/><circle cx="256.2" cy="303.7" r="0.5"/><circle cx="252.3" cy="303.1" r="0.5"/><circle cx="255.5" cy="302.8" r="0.5"/><circle cx="253.4" cy="303.1" r="0.5"/><circle cx="249.6" cy="304.6" r="0.5"/><circle cx="255.2" cy="303.7" r="0.5"/><circle cx="249.6" cy="304.8" r="0.5"/><circle cx="251.4" cy="304.1" r="0.5"/><circle cx="255.8" cy="305.2" r="0.5"/><circle cx="250.0" cy="306.7" r="0.5"/><circle cx="251.5" cy="304.7" r="0.5"/><circle cx="249.7" cy="303.6" r="0.5"/><circle cx="246.6" cy="306.0" r="0.5"/><circle cx="255.3" cy="302.1" r="0.5"/></g><g fill="#fff" opacity="0.4"><circle cx="246.4" cy="301.2" r="0.45"/><circle cx="255.5" cy="303.0" r="0.45"/><circle cx="251.3" cy="303.2" r="0.45"/><circle cx="251.1" cy="302.0" r="0.45"/><circle cx="251.6" cy="301.5" r="0.45"/><circle cx="251.3" cy="304.2" r="0.45"/><circle cx="253.1" cy="303.3" r="0.45"/><circle cx="248.5" cy="303.9" r="0.45"/><circle cx="249.9" cy="306.1" r="0.45"/><circle cx="254.1" cy="303.5" r="0.45"/><circle cx="249.9" cy="302.6" r="0.45"/><circle cx="248.4" cy="303.1" r="0.45"/><circle cx="252.5" cy="304.5" r="0.45"/><circle cx="253.4" cy="307.0" r="0.45"/><circle cx="249.1" cy="303.7" r="0.45"/><circle cx="260.9" cy="300.8" r="0.45"/><circle cx="249.7" cy="304.0" r="0.45"/><circle cx="252.0" cy="304.3" r="0.45"/><circle cx="250.7" cy="304.3" r="0.45"/><circle cx="251.7" cy="304.9" r="0.45"/><circle cx="245.1" cy="302.3" r="0.45"/><circle cx="251.5" cy="302.1" r="0.45"/></g><g fill="#777" opacity="0.35" filter="url(#b)"><circle cx="253.6" cy="300.3" r="0.4"/><circle cx="252.8" cy="297.5" r="0.4"/><circle cx="246.5" cy="296.6" r="0.4"/><circle cx="264.7" cy="294.3" r="0.4"/><circle cx="255.4" cy="301.8" r="0.4"/><circle cx="262.6" cy="295.6" r="0.4"/><circle cx="250.7" cy="296.1" r="0.4"/><circle cx="253.3" cy="299.1" r="0.4"/><circle cx="264.4" cy="305.1" r="0.4"/><circle cx="262.8" cy="292.7" r="0.4"/><circle cx="245.9" cy="303.0" r="0.4"/><circle cx="263.2" cy="299.5" r="0.4"/><circle cx="257.0" cy="292.4" r="0.4"/><circle cx="253.1" cy="306.3" r="0.4"/></g></g>
<line x1="243.3" y1="303.0" x2="267.6" y2="303.0" stroke="#777" stroke-width="0.7"/>
<text x="275.8" y="266.6" font-size="6.7" text-anchor="start" font-weight="normal" fill="#111" transform="rotate(-31.5 275.8 266.6)">maDC/Th1</text>
<rect x="270.20" y="268.0" width="24.3" height="19.10" fill="#fff" stroke="#777" stroke-width="0.8"/>
<clipPath id="c20"><rect x="270.60" y="268.4" width="23.5" height="18.30"/></clipPath>
<g clip-path="url(#c20)"><ellipse cx="279.40" cy="277.00" rx="5.51" ry="8.50" fill="url(#g2)"/><ellipse cx="279.00" cy="279.20" rx="5.80" ry="6.80" fill="url(#g)"/><ellipse cx="285.20" cy="276.90" rx="5.5" ry="1.3" fill="url(#g2)" opacity="0.45" transform="rotate(-12 285.20 276.90)"/><g fill="#222" opacity="0.45"><circle cx="280.8" cy="273.9" r="0.5"/><circle cx="280.5" cy="278.1" r="0.5"/><circle cx="279.9" cy="279.4" r="0.5"/><circle cx="276.0" cy="277.8" r="0.5"/><circle cx="282.0" cy="276.9" r="0.5"/><circle cx="277.0" cy="274.9" r="0.5"/><circle cx="276.6" cy="279.3" r="0.5"/><circle cx="282.4" cy="279.5" r="0.5"/><circle cx="279.5" cy="284.2" r="0.5"/><circle cx="278.0" cy="276.6" r="0.5"/><circle cx="280.1" cy="279.8" r="0.5"/><circle cx="277.0" cy="275.4" r="0.5"/><circle cx="279.6" cy="279.0" r="0.5"/><circle cx="276.4" cy="277.9" r="0.5"/><circle cx="277.9" cy="279.6" r="0.5"/><circle cx="278.8" cy="278.2" r="0.5"/><circle cx="278.3" cy="281.1" r="0.5"/><circle cx="281.8" cy="277.4" r="0.5"/><circle cx="280.7" cy="276.4" r="0.5"/><circle cx="279.1" cy="280.3" r="0.5"/><circle cx="282.0" cy="277.4" r="0.5"/><circle cx="278.9" cy="278.9" r="0.5"/><circle cx="276.0" cy="278.4" r="0.5"/><circle cx="277.6" cy="279.4" r="0.5"/><circle cx="276.7" cy="273.3" r="0.5"/><circle cx="279.1" cy="279.1" r="0.5"/><circle cx="277.9" cy="280.7" r="0.5"/><circle cx="278.5" cy="276.8" r="0.5"/><circle cx="280.0" cy="274.3" r="0.5"/><circle cx="277.6" cy="278.3" r="0.5"/><circle cx="280.7" cy="278.0" r="0.5"/><circle cx="279.6" cy="276.7" r="0.5"/><circle cx="279.6" cy="282.7" r="0.5"/><circle cx="277.6" cy="284.6" r="0.5"/><circle cx="277.7" cy="278.4" r="0.5"/><circle cx="279.3" cy="281.1" r="0.5"/><circle cx="276.5" cy="272.9" r="0.5"/><circle cx="280.2" cy="280.5" r="0.5"/><circle cx="280.2" cy="285.2" r="0.5"/><circle cx="279.4" cy="279.1" r="0.5"/><circle cx="280.9" cy="279.4" r="0.5"/><circle cx="282.3" cy="275.2" r="0.5"/><circle cx="278.2" cy="269.4" r="0.5"/><circle cx="280.6" cy="277.4" r="0.5"/><circle cx="280.8" cy="284.0" r="0.5"/></g><g fill="#fff" opacity="0.4"><circle cx="279.0" cy="277.6" r="0.45"/><circle cx="277.8" cy="275.8" r="0.45"/><circle cx="277.5" cy="280.4" r="0.45"/><circle cx="279.1" cy="278.6" r="0.45"/><circle cx="278.6" cy="281.3" r="0.45"/><circle cx="280.2" cy="278.0" r="0.45"/><circle cx="280.6" cy="277.9" r="0.45"/><circle cx="276.2" cy="282.9" r="0.45"/><circle cx="280.1" cy="275.4" r="0.45"/><circle cx="281.6" cy="279.5" r="0.45"/><circle cx="275.2" cy="283.4" r="0.45"/><circle cx="279.8" cy="281.2" r="0.45"/><circle cx="279.5" cy="277.9" r="0.45"/><circle cx="275.3" cy="281.4" r="0.45"/><circle cx="279.1" cy="277.5" r="0.45"/><circle cx="279.8" cy="278.6" r="0.45"/><circle cx="280.6" cy="277.2" r="0.45"/><circle cx="278.9" cy="271.7" r="0.45"/><circle cx="278.0" cy="280.5" r="0.45"/><circle cx="282.2" cy="277.3" r="0.45"/><circle cx="278.7" cy="283.3" r="0.45"/><circle cx="278.2" cy="280.7" r="0.45"/></g><g fill="#777" opacity="0.35" filter="url(#b)"><circle cx="272.3" cy="282.4" r="0.4"/><circle cx="290.5" cy="280.6" r="0.4"/><circle cx="291.1" cy="271.4" r="0.4"/><circle cx="276.9" cy="278.2" r="0.4"/><circle cx="291.3" cy="285.4" r="0.4"/><circle cx="279.9" cy="274.8" r="0.4"/><circle cx="280.8" cy="278.5" r="0.4"/><circle cx="290.8" cy="273.8" r="0.4"/><circle cx="288.3" cy="282.2" r="0.4"/><circle cx="288.7" cy="282.7" r="0.4"/><circle cx="284.3" cy="275.9" r="0.4"/><circle cx="278.6" cy="276.5" r="0.4"/><circle cx="287.8" cy="272.2" r="0.4"/><circle cx="276.1" cy="282.4" r="0.4"/></g></g>
<line x1="270.2" y1="281.4" x2="294.5" y2="281.4" stroke="#777" stroke-width="0.7"/>
<rect x="270.20" y="289.4" width="24.3" height="19.00" fill="#fff" stroke="#777" stroke-width="0.8"/>
<clipPath id="c21"><rect x="270.60" y="289.79999999999995" width="23.5" height="18.20"/></clipPath>
<g clip-path="url(#c21)"><ellipse cx="279.10" cy="302.10" rx="4.44" ry="5.55" fill="url(#g2)" opacity="0.7"/><ellipse cx="278.60" cy="303.70" rx="7.40" ry="3.70" fill="url(#g)"/><ellipse cx="286.20" cy="300.80" rx="6" ry="1.2" fill="url(#g2)" opacity="0.4" transform="rotate(-14 286.20 300.80)"/><g fill="#222" opacity="0.45"><circle cx="278.6" cy="304.2" r="0.5"/><circle cx="282.1" cy="304.0" r="0.5"/><circle cx="275.0" cy="306.9" r="0.5"/><circle cx="284.8" cy="301.1" r="0.5"/><circle cx="278.5" cy="304.2" r="0.5"/><circle cx="281.3" cy="304.6" r="0.5"/><circle cx="277.8" cy="302.3" r="0.5"/><circle cx="278.9" cy="305.0" r="0.5"/><circle cx="275.5" cy="302.4" r="0.5"/><circle cx="278.5" cy="301.2" r="0.5"/><circle cx="277.9" cy="303.1" r="0.5"/><circle cx="279.9" cy="302.8" r="0.5"/><circle cx="276.1" cy="303.2" r="0.5"/><circle cx="278.5" cy="302.8" r="0.5"/><circle cx="278.6" cy="304.7" r="0.5"/><circle cx="281.9" cy="305.9" r="0.5"/><circle cx="276.4" cy="303.2" r="0.5"/><circle cx="271.6" cy="306.2" r="0.5"/><circle cx="276.6" cy="303.7" r="0.5"/><circle cx="280.1" cy="301.9" r="0.5"/><circle cx="279.9" cy="303.7" r="0.5"/><circle cx="273.5" cy="304.1" r="0.5"/><circle cx="281.9" cy="301.3" r="0.5"/><circle cx="280.9" cy="304.0" r="0.5"/><circle cx="279.9" cy="304.3" r="0.5"/><circle cx="282.3" cy="303.4" r="0.5"/><circle cx="281.0" cy="303.2" r="0.5"/><circle cx="280.6" cy="302.6" r="0.5"/><circle cx="278.3" cy="306.0" r="0.5"/><circle cx="279.8" cy="303.5" r="0.5"/><circle cx="275.4" cy="302.7" r="0.5"/><circle cx="279.1" cy="304.9" r="0.5"/><circle cx="279.8" cy="304.4" r="0.5"/><circle cx="278.5" cy="305.5" r="0.5"/><circle cx="277.5" cy="303.0" r="0.5"/><circle cx="281.1" cy="303.8" r="0.5"/><circle cx="277.8" cy="303.0" r="0.5"/><circle cx="277.9" cy="304.5" r="0.5"/><circle cx="279.6" cy="302.1" r="0.5"/><circle cx="279.8" cy="303.9" r="0.5"/><circle cx="275.8" cy="304.7" r="0.5"/><circle cx="277.8" cy="303.3" r="0.5"/><circle cx="280.8" cy="305.4" r="0.5"/><circle cx="276.7" cy="304.3" r="0.5"/><circle cx="276.1" cy="306.7" r="0.5"/></g><g fill="#fff" opacity="0.4"><circle cx="276.9" cy="305.6" r="0.45"/><circle cx="276.4" cy="305.0" r="0.45"/><circle cx="286.1" cy="299.7" r="0.45"/><circle cx="277.1" cy="304.5" r="0.45"/><circle cx="278.3" cy="302.7" r="0.45"/><circle cx="285.8" cy="303.8" r="0.45"/><circle cx="273.1" cy="305.0" r="0.45"/><circle cx="272.8" cy="305.5" r="0.45"/><circle cx="276.7" cy="303.9" r="0.45"/><circle cx="282.8" cy="303.9" r="0.45"/><circle cx="273.9" cy="301.1" r="0.45"/><circle cx="282.6" cy="304.9" r="0.45"/><circle cx="275.9" cy="305.0" r="0.45"/><circle cx="280.3" cy="304.7" r="0.45"/><circle cx="271.0" cy="303.2" r="0.45"/><circle cx="281.6" cy="304.8" r="0.45"/><circle cx="281.6" cy="299.9" r="0.45"/><circle cx="279.2" cy="304.5" r="0.45"/><circle cx="287.2" cy="302.2" r="0.45"/><circle cx="277.5" cy="303.8" r="0.45"/><circle cx="281.6" cy="303.0" r="0.45"/><circle cx="282.5" cy="302.5" r="0.45"/></g><g fill="#777" opacity="0.35" filter="url(#b)"><circle cx="288.7" cy="294.8" r="0.4"/><circle cx="287.9" cy="295.7" r="0.4"/><circle cx="280.3" cy="305.1" r="0.4"/><circle cx="288.8" cy="295.1" r="0.4"/><circle cx="276.6" cy="298.4" r="0.4"/><circle cx="282.6" cy="298.2" r="0.4"/><circle cx="274.7" cy="296.1" r="0.4"/><circle cx="286.7" cy="305.9" r="0.4"/><circle cx="273.0" cy="300.8" r="0.4"/><circle cx="287.3" cy="293.0" r="0.4"/><circle cx="289.0" cy="294.2" r="0.4"/><circle cx="284.2" cy="300.7" r="0.4"/><circle cx="284.7" cy="297.0" r="0.4"/><circle cx="280.6" cy="301.1" r="0.4"/></g></g>
<line x1="270.2" y1="303.0" x2="294.5" y2="303.0" stroke="#777" stroke-width="0.7"/>
<text x="302.70000000000005" y="266.6" font-size="6.7" text-anchor="start" font-weight="normal" fill="#111" transform="rotate(-31.5 302.70000000000005 266.6)">diffDC/Th1</text>
<rect x="297.10" y="268.0" width="24.3" height="19.10" fill="#fff" stroke="#777" stroke-width="0.8"/>
<clipPath id="c30"><rect x="297.50" y="268.4" width="23.5" height="18.30"/></clipPath>
<g clip-path="url(#c30)"><ellipse cx="306.30" cy="276.80" rx="5.51" ry="6.50" fill="url(#g2)"/><ellipse cx="305.90" cy="279.00" rx="5.80" ry="6.00" fill="url(#g)"/><ellipse cx="312.10" cy="276.90" rx="5.5" ry="1.3" fill="url(#g2)" opacity="0.45" transform="rotate(-12 312.10 276.90)"/><g fill="#222" opacity="0.45"><circle cx="303.3" cy="279.9" r="0.5"/><circle cx="303.9" cy="279.1" r="0.5"/><circle cx="308.6" cy="278.7" r="0.5"/><circle cx="304.4" cy="278.3" r="0.5"/><circle cx="306.2" cy="273.7" r="0.5"/><circle cx="304.7" cy="278.6" r="0.5"/><circle cx="305.0" cy="278.4" r="0.5"/><circle cx="307.4" cy="280.2" r="0.5"/><circle cx="307.7" cy="279.7" r="0.5"/><circle cx="305.3" cy="278.2" r="0.5"/><circle cx="305.4" cy="277.4" r="0.5"/><circle cx="305.5" cy="273.7" r="0.5"/><circle cx="305.2" cy="278.1" r="0.5"/><circle cx="304.0" cy="278.1" r="0.5"/><circle cx="306.9" cy="277.8" r="0.5"/><circle cx="310.1" cy="271.4" r="0.5"/><circle cx="305.5" cy="273.5" r="0.5"/><circle cx="307.9" cy="285.1" r="0.5"/><circle cx="300.9" cy="278.5" r="0.5"/><circle cx="306.9" cy="277.4" r="0.5"/><circle cx="307.0" cy="272.4" r="0.5"/><circle cx="307.6" cy="279.2" r="0.5"/><circle cx="305.9" cy="276.7" r="0.5"/><circle cx="307.2" cy="276.9" r="0.5"/><circle cx="306.3" cy="276.9" r="0.5"/><circle cx="301.4" cy="278.1" r="0.5"/><circle cx="306.3" cy="280.2" r="0.5"/><circle cx="304.1" cy="278.1" r="0.5"/><circle cx="307.1" cy="278.6" r="0.5"/><circle cx="308.4" cy="283.4" r="0.5"/><circle cx="304.1" cy="273.2" r="0.5"/><circle cx="307.6" cy="282.2" r="0.5"/><circle cx="307.7" cy="280.3" r="0.5"/><circle cx="304.7" cy="276.3" r="0.5"/><circle cx="307.7" cy="275.8" r="0.5"/><circle cx="302.3" cy="275.6" r="0.5"/><circle cx="310.9" cy="283.2" r="0.5"/><circle cx="304.5" cy="276.3" r="0.5"/><circle cx="306.4" cy="276.3" r="0.5"/><circle cx="308.5" cy="278.0" r="0.5"/><circle cx="303.7" cy="281.6" r="0.5"/><circle cx="304.7" cy="278.8" r="0.5"/><circle cx="305.9" cy="277.4" r="0.5"/><circle cx="306.5" cy="276.4" r="0.5"/><circle cx="302.2" cy="272.5" r="0.5"/></g><g fill="#fff" opacity="0.4"><circle cx="302.9" cy="275.8" r="0.45"/><circle cx="305.8" cy="278.4" r="0.45"/><circle cx="307.2" cy="278.6" r="0.45"/><circle cx="304.0" cy="276.0" r="0.45"/><circle cx="300.8" cy="277.7" r="0.45"/><circle cx="307.1" cy="279.9" r="0.45"/><circle cx="305.6" cy="277.7" r="0.45"/><circle cx="308.1" cy="278.2" r="0.45"/><circle cx="307.7" cy="280.0" r="0.45"/><circle cx="306.4" cy="282.3" r="0.45"/><circle cx="304.5" cy="277.1" r="0.45"/><circle cx="304.0" cy="275.7" r="0.45"/><circle cx="309.6" cy="283.7" r="0.45"/><circle cx="306.0" cy="280.0" r="0.45"/><circle cx="308.7" cy="280.7" r="0.45"/><circle cx="308.8" cy="274.3" r="0.45"/><circle cx="304.4" cy="279.6" r="0.45"/><circle cx="309.3" cy="278.5" r="0.45"/><circle cx="303.8" cy="277.1" r="0.45"/><circle cx="304.3" cy="275.5" r="0.45"/><circle cx="309.5" cy="276.2" r="0.45"/><circle cx="305.9" cy="284.9" r="0.45"/></g><g fill="#777" opacity="0.35" filter="url(#b)"><circle cx="300.0" cy="279.0" r="0.4"/><circle cx="307.2" cy="274.6" r="0.4"/><circle cx="300.3" cy="282.8" r="0.4"/><circle cx="299.3" cy="279.3" r="0.4"/><circle cx="317.9" cy="273.1" r="0.4"/><circle cx="303.1" cy="280.2" r="0.4"/><circle cx="309.2" cy="280.7" r="0.4"/><circle cx="315.4" cy="273.6" r="0.4"/><circle cx="305.3" cy="275.5" r="0.4"/><circle cx="300.1" cy="284.4" r="0.4"/><circle cx="314.8" cy="281.8" r="0.4"/><circle cx="299.2" cy="283.8" r="0.4"/><circle cx="314.0" cy="278.0" r="0.4"/><circle cx="313.9" cy="277.8" r="0.4"/></g></g>
<line x1="297.1" y1="281.4" x2="321.40000000000003" y2="281.4" stroke="#777" stroke-width="0.7"/>
<rect x="297.10" y="289.4" width="24.3" height="19.00" fill="#fff" stroke="#777" stroke-width="0.8"/>
<clipPath id="c31"><rect x="297.50" y="289.79999999999995" width="23.5" height="18.20"/></clipPath>
<g clip-path="url(#c31)"><ellipse cx="305.60" cy="301.90" rx="4.56" ry="5.85" fill="url(#g2)" opacity="0.7"/><ellipse cx="305.10" cy="303.50" rx="7.60" ry="3.90" fill="url(#g)"/><ellipse cx="313.10" cy="300.80" rx="6" ry="1.2" fill="url(#g2)" opacity="0.4" transform="rotate(-14 313.10 300.80)"/><g fill="#222" opacity="0.45"><circle cx="305.3" cy="304.1" r="0.5"/><circle cx="305.2" cy="303.9" r="0.5"/><circle cx="302.7" cy="305.4" r="0.5"/><circle cx="303.3" cy="301.1" r="0.5"/><circle cx="304.6" cy="302.5" r="0.5"/><circle cx="302.3" cy="303.0" r="0.5"/><circle cx="305.9" cy="302.0" r="0.5"/><circle cx="304.7" cy="305.4" r="0.5"/><circle cx="307.0" cy="303.3" r="0.5"/><circle cx="305.5" cy="303.3" r="0.5"/><circle cx="305.0" cy="304.5" r="0.5"/><circle cx="304.8" cy="300.4" r="0.5"/><circle cx="305.0" cy="302.3" r="0.5"/><circle cx="306.9" cy="302.7" r="0.5"/><circle cx="305.5" cy="306.3" r="0.5"/><circle cx="302.2" cy="302.0" r="0.5"/><circle cx="301.1" cy="300.4" r="0.5"/><circle cx="299.8" cy="304.0" r="0.5"/><circle cx="303.3" cy="301.1" r="0.5"/><circle cx="300.9" cy="304.3" r="0.5"/><circle cx="302.9" cy="303.0" r="0.5"/><circle cx="306.0" cy="305.3" r="0.5"/><circle cx="310.5" cy="304.8" r="0.5"/><circle cx="305.5" cy="303.7" r="0.5"/><circle cx="310.1" cy="305.4" r="0.5"/><circle cx="304.2" cy="304.1" r="0.5"/><circle cx="305.9" cy="303.6" r="0.5"/><circle cx="303.7" cy="301.8" r="0.5"/><circle cx="303.6" cy="301.5" r="0.5"/><circle cx="308.5" cy="304.2" r="0.5"/><circle cx="301.7" cy="305.3" r="0.5"/><circle cx="307.6" cy="301.0" r="0.5"/><circle cx="310.3" cy="304.6" r="0.5"/><circle cx="310.9" cy="301.9" r="0.5"/><circle cx="306.6" cy="304.1" r="0.5"/><circle cx="305.7" cy="303.7" r="0.5"/><circle cx="308.0" cy="301.6" r="0.5"/><circle cx="301.6" cy="301.7" r="0.5"/><circle cx="303.5" cy="302.7" r="0.5"/><circle cx="306.1" cy="303.8" r="0.5"/><circle cx="305.2" cy="302.6" r="0.5"/><circle cx="303.9" cy="304.7" r="0.5"/><circle cx="307.2" cy="303.6" r="0.5"/><circle cx="304.2" cy="305.5" r="0.5"/><circle cx="303.4" cy="304.3" r="0.5"/></g><g fill="#fff" opacity="0.4"><circle cx="309.0" cy="303.1" r="0.45"/><circle cx="307.9" cy="301.8" r="0.45"/><circle cx="308.5" cy="303.8" r="0.45"/><circle cx="299.8" cy="304.5" r="0.45"/><circle cx="302.1" cy="305.5" r="0.45"/><circle cx="302.8" cy="303.2" r="0.45"/><circle cx="306.1" cy="303.0" r="0.45"/><circle cx="306.0" cy="302.6" r="0.45"/><circle cx="307.4" cy="303.5" r="0.45"/><circle cx="305.8" cy="299.2" r="0.45"/><circle cx="309.0" cy="303.5" r="0.45"/><circle cx="299.1" cy="303.6" r="0.45"/><circle cx="306.7" cy="305.2" r="0.45"/><circle cx="301.5" cy="305.9" r="0.45"/><circle cx="304.6" cy="307.2" r="0.45"/><circle cx="304.6" cy="304.6" r="0.45"/><circle cx="303.9" cy="301.8" r="0.45"/><circle cx="308.8" cy="304.9" r="0.45"/><circle cx="310.3" cy="304.8" r="0.45"/><circle cx="303.2" cy="300.9" r="0.45"/><circle cx="302.9" cy="302.4" r="0.45"/><circle cx="302.4" cy="304.4" r="0.45"/></g><g fill="#777" opacity="0.35" filter="url(#b)"><circle cx="316.9" cy="293.7" r="0.4"/><circle cx="316.9" cy="292.8" r="0.4"/><circle cx="303.2" cy="296.3" r="0.4"/><circle cx="317.1" cy="299.9" r="0.4"/><circle cx="306.7" cy="305.7" r="0.4"/><circle cx="303.8" cy="299.3" r="0.4"/><circle cx="309.7" cy="303.7" r="0.4"/><circle cx="314.2" cy="302.1" r="0.4"/><circle cx="306.1" cy="297.3" r="0.4"/><circle cx="302.2" cy="305.0" r="0.4"/><circle cx="312.3" cy="303.5" r="0.4"/><circle cx="302.5" cy="299.0" r="0.4"/><circle cx="314.6" cy="301.1" r="0.4"/><circle cx="301.6" cy="299.3" r="0.4"/></g></g>
<line x1="297.1" y1="303.0" x2="321.40000000000003" y2="303.0" stroke="#777" stroke-width="0.7"/>
<text x="329.6" y="266.6" font-size="6.7" text-anchor="start" font-weight="normal" fill="#111" transform="rotate(-31.5 329.6 266.6)">LPS-diffDC/Th1</text>
<rect x="324.00" y="268.0" width="24.3" height="19.10" fill="#fff" stroke="#777" stroke-width="0.8"/>
<clipPath id="c40"><rect x="324.40" y="268.4" width="23.5" height="18.30"/></clipPath>
<g clip-path="url(#c40)"><ellipse cx="332.60" cy="276.80" rx="5.51" ry="7.50" fill="url(#g2)"/><ellipse cx="332.20" cy="279.00" rx="5.80" ry="6.40" fill="url(#g)"/><ellipse cx="339.00" cy="276.90" rx="5.5" ry="1.3" fill="url(#g2)" opacity="0.45" transform="rotate(-12 339.00 276.90)"/><g fill="#222" opacity="0.45"><circle cx="333.3" cy="276.9" r="0.5"/><circle cx="332.8" cy="280.3" r="0.5"/><circle cx="331.1" cy="273.4" r="0.5"/><circle cx="332.9" cy="279.5" r="0.5"/><circle cx="332.2" cy="280.5" r="0.5"/><circle cx="331.0" cy="278.0" r="0.5"/><circle cx="331.6" cy="279.7" r="0.5"/><circle cx="335.4" cy="277.5" r="0.5"/><circle cx="336.3" cy="282.2" r="0.5"/><circle cx="333.8" cy="279.7" r="0.5"/><circle cx="335.7" cy="277.7" r="0.5"/><circle cx="332.0" cy="275.4" r="0.5"/><circle cx="333.1" cy="281.7" r="0.5"/><circle cx="333.3" cy="279.3" r="0.5"/><circle cx="331.8" cy="278.6" r="0.5"/><circle cx="329.3" cy="280.9" r="0.5"/><circle cx="331.4" cy="275.3" r="0.5"/><circle cx="330.7" cy="276.1" r="0.5"/><circle cx="333.9" cy="281.0" r="0.5"/><circle cx="329.5" cy="280.6" r="0.5"/><circle cx="334.0" cy="276.7" r="0.5"/><circle cx="329.2" cy="276.3" r="0.5"/><circle cx="330.9" cy="279.1" r="0.5"/><circle cx="331.5" cy="272.9" r="0.5"/><circle cx="332.7" cy="274.2" r="0.5"/><circle cx="334.0" cy="275.1" r="0.5"/><circle cx="330.8" cy="276.0" r="0.5"/><circle cx="331.1" cy="281.6" r="0.5"/><circle cx="333.9" cy="279.8" r="0.5"/><circle cx="332.8" cy="274.2" r="0.5"/><circle cx="331.2" cy="276.8" r="0.5"/><circle cx="330.2" cy="279.5" r="0.5"/><circle cx="330.7" cy="276.4" r="0.5"/><circle cx="330.1" cy="272.9" r="0.5"/><circle cx="333.4" cy="281.7" r="0.5"/><circle cx="332.5" cy="275.7" r="0.5"/><circle cx="326.8" cy="278.6" r="0.5"/><circle cx="334.6" cy="279.0" r="0.5"/><circle cx="334.1" cy="282.0" r="0.5"/><circle cx="334.5" cy="277.1" r="0.5"/><circle cx="334.3" cy="280.2" r="0.5"/><circle cx="329.1" cy="277.1" r="0.5"/><circle cx="329.4" cy="277.9" r="0.5"/><circle cx="333.4" cy="275.4" r="0.5"/><circle cx="328.1" cy="281.6" r="0.5"/></g><g fill="#fff" opacity="0.4"><circle cx="333.1" cy="282.8" r="0.45"/><circle cx="329.0" cy="281.5" r="0.45"/><circle cx="337.2" cy="284.5" r="0.45"/><circle cx="331.7" cy="279.0" r="0.45"/><circle cx="331.8" cy="281.3" r="0.45"/><circle cx="334.7" cy="278.5" r="0.45"/><circle cx="328.9" cy="280.5" r="0.45"/><circle cx="331.1" cy="280.2" r="0.45"/><circle cx="332.8" cy="283.3" r="0.45"/><circle cx="334.9" cy="276.8" r="0.45"/><circle cx="333.0" cy="283.7" r="0.45"/><circle cx="330.9" cy="279.6" r="0.45"/><circle cx="335.1" cy="282.1" r="0.45"/><circle cx="333.4" cy="274.1" r="0.45"/><circle cx="329.2" cy="279.0" r="0.45"/><circle cx="333.1" cy="286.1" r="0.45"/><circle cx="330.1" cy="281.8" r="0.45"/><circle cx="334.0" cy="273.0" r="0.45"/><circle cx="330.2" cy="278.7" r="0.45"/><circle cx="331.0" cy="277.7" r="0.45"/><circle cx="333.3" cy="275.7" r="0.45"/><circle cx="333.3" cy="276.2" r="0.45"/></g><g fill="#777" opacity="0.35" filter="url(#b)"><circle cx="333.5" cy="274.8" r="0.4"/><circle cx="334.5" cy="273.8" r="0.4"/><circle cx="326.1" cy="281.9" r="0.4"/><circle cx="331.6" cy="274.7" r="0.4"/><circle cx="332.0" cy="278.2" r="0.4"/><circle cx="334.6" cy="280.6" r="0.4"/><circle cx="339.2" cy="276.5" r="0.4"/><circle cx="344.6" cy="283.9" r="0.4"/><circle cx="327.1" cy="283.5" r="0.4"/><circle cx="344.1" cy="282.8" r="0.4"/><circle cx="328.8" cy="283.6" r="0.4"/><circle cx="338.7" cy="271.2" r="0.4"/><circle cx="326.2" cy="285.4" r="0.4"/><circle cx="339.1" cy="274.8" r="0.4"/></g></g>
<line x1="324.0" y1="281.4" x2="348.3" y2="281.4" stroke="#777" stroke-width="0.7"/>
<rect x="324.00" y="289.4" width="24.3" height="19.00" fill="#fff" stroke="#777" stroke-width="0.8"/>
<clipPath id="c41"><rect x="324.40" y="289.79999999999995" width="23.5" height="18.20"/></clipPath>
<g clip-path="url(#c41)"><ellipse cx="332.30" cy="302.20" rx="4.92" ry="6.00" fill="url(#g2)" opacity="0.7"/><ellipse cx="331.80" cy="303.80" rx="8.20" ry="4.00" fill="url(#g)"/><ellipse cx="340.00" cy="300.80" rx="6" ry="1.2" fill="url(#g2)" opacity="0.4" transform="rotate(-14 340.00 300.80)"/><g fill="#222" opacity="0.45"><circle cx="333.0" cy="304.2" r="0.5"/><circle cx="332.3" cy="306.0" r="0.5"/><circle cx="330.9" cy="304.4" r="0.5"/><circle cx="335.9" cy="302.5" r="0.5"/><circle cx="334.7" cy="306.2" r="0.5"/><circle cx="328.0" cy="302.4" r="0.5"/><circle cx="328.9" cy="301.4" r="0.5"/><circle cx="333.1" cy="301.4" r="0.5"/><circle cx="333.2" cy="305.7" r="0.5"/><circle cx="327.3" cy="303.4" r="0.5"/><circle cx="326.4" cy="304.8" r="0.5"/><circle cx="329.7" cy="303.5" r="0.5"/><circle cx="332.0" cy="304.5" r="0.5"/><circle cx="330.8" cy="303.8" r="0.5"/><circle cx="330.3" cy="303.9" r="0.5"/><circle cx="328.5" cy="303.9" r="0.5"/><circle cx="326.4" cy="303.2" r="0.5"/><circle cx="337.2" cy="303.9" r="0.5"/><circle cx="328.3" cy="304.1" r="0.5"/><circle cx="329.1" cy="301.7" r="0.5"/><circle cx="329.7" cy="304.8" r="0.5"/><circle cx="332.9" cy="303.7" r="0.5"/><circle cx="329.2" cy="302.4" r="0.5"/><circle cx="335.6" cy="304.1" r="0.5"/><circle cx="329.1" cy="301.1" r="0.5"/><circle cx="328.0" cy="307.0" r="0.5"/><circle cx="328.6" cy="303.7" r="0.5"/><circle cx="332.4" cy="303.6" r="0.5"/><circle cx="331.0" cy="302.0" r="0.5"/><circle cx="328.9" cy="306.0" r="0.5"/><circle cx="329.7" cy="304.9" r="0.5"/><circle cx="327.1" cy="303.4" r="0.5"/><circle cx="332.5" cy="305.1" r="0.5"/><circle cx="328.7" cy="304.6" r="0.5"/><circle cx="332.9" cy="302.8" r="0.5"/><circle cx="333.1" cy="302.6" r="0.5"/><circle cx="329.6" cy="303.8" r="0.5"/><circle cx="324.2" cy="303.7" r="0.5"/><circle cx="329.0" cy="301.9" r="0.5"/><circle cx="330.6" cy="304.8" r="0.5"/><circle cx="330.7" cy="305.4" r="0.5"/><circle cx="328.6" cy="302.1" r="0.5"/><circle cx="336.1" cy="304.3" r="0.5"/><circle cx="334.4" cy="302.7" r="0.5"/><circle cx="334.1" cy="304.1" r="0.5"/></g><g fill="#fff" opacity="0.4"><circle cx="334.0" cy="303.8" r="0.45"/><circle cx="335.9" cy="302.8" r="0.45"/><circle cx="328.6" cy="301.5" r="0.45"/><circle cx="335.7" cy="302.6" r="0.45"/><circle cx="328.3" cy="302.3" r="0.45"/><circle cx="330.3" cy="301.8" r="0.45"/><circle cx="330.8" cy="302.8" r="0.45"/><circle cx="329.9" cy="302.3" r="0.45"/><circle cx="331.9" cy="303.1" r="0.45"/><circle cx="332.2" cy="304.2" r="0.45"/><circle cx="332.9" cy="300.4" r="0.45"/><circle cx="330.0" cy="302.6" r="0.45"/><circle cx="334.4" cy="301.3" r="0.45"/><circle cx="329.4" cy="303.3" r="0.45"/><circle cx="330.7" cy="305.3" r="0.45"/><circle cx="330.3" cy="305.3" r="0.45"/><circle cx="326.9" cy="301.0" r="0.45"/><circle cx="335.9" cy="304.5" r="0.45"/><circle cx="333.4" cy="304.0" r="0.45"/><circle cx="333.4" cy="301.9" r="0.45"/><circle cx="335.0" cy="303.0" r="0.45"/><circle cx="335.1" cy="303.9" r="0.45"/></g><g fill="#777" opacity="0.35" filter="url(#b)"><circle cx="337.8" cy="306.5" r="0.4"/><circle cx="345.6" cy="299.5" r="0.4"/><circle cx="334.2" cy="293.9" r="0.4"/><circle cx="338.9" cy="295.6" r="0.4"/><circle cx="329.0" cy="292.6" r="0.4"/><circle cx="326.1" cy="302.7" r="0.4"/><circle cx="328.4" cy="306.9" r="0.4"/><circle cx="327.8" cy="305.4" r="0.4"/><circle cx="328.6" cy="292.7" r="0.4"/><circle cx="340.4" cy="296.0" r="0.4"/><circle cx="340.7" cy="295.2" r="0.4"/><circle cx="327.0" cy="304.0" r="0.4"/><circle cx="340.3" cy="305.2" r="0.4"/><circle cx="340.6" cy="293.7" r="0.4"/></g></g>
<line x1="324.0" y1="303.0" x2="348.3" y2="303.0" stroke="#777" stroke-width="0.7"/>
<text x="356.5" y="266.6" font-size="6.7" text-anchor="start" font-weight="normal" fill="#111" transform="rotate(-31.5 356.5 266.6)">diffDC/maDC/Th1</text>
<rect x="350.90" y="268.0" width="24.3" height="19.10" fill="#fff" stroke="#777" stroke-width="0.8"/>
<clipPath id="c50"><rect x="351.30" y="268.4" width="23.5" height="18.30"/></clipPath>
<g clip-path="url(#c50)"><ellipse cx="359.90" cy="276.60" rx="5.51" ry="7.50" fill="url(#g2)"/><ellipse cx="359.50" cy="278.80" rx="5.80" ry="6.40" fill="url(#g)"/><ellipse cx="365.90" cy="276.90" rx="5.5" ry="1.3" fill="url(#g2)" opacity="0.45" transform="rotate(-12 365.90 276.90)"/><g fill="#222" opacity="0.45"><circle cx="357.3" cy="275.0" r="0.5"/><circle cx="355.0" cy="279.5" r="0.5"/><circle cx="359.4" cy="284.7" r="0.5"/><circle cx="359.4" cy="277.6" r="0.5"/><circle cx="362.4" cy="278.3" r="0.5"/><circle cx="359.8" cy="277.0" r="0.5"/><circle cx="358.3" cy="281.9" r="0.5"/><circle cx="361.5" cy="282.5" r="0.5"/><circle cx="358.8" cy="278.1" r="0.5"/><circle cx="357.7" cy="280.5" r="0.5"/><circle cx="356.7" cy="279.5" r="0.5"/><circle cx="361.7" cy="281.7" r="0.5"/><circle cx="357.6" cy="280.8" r="0.5"/><circle cx="358.1" cy="276.0" r="0.5"/><circle cx="356.9" cy="281.0" r="0.5"/><circle cx="362.8" cy="276.5" r="0.5"/><circle cx="358.0" cy="277.1" r="0.5"/><circle cx="364.5" cy="280.6" r="0.5"/><circle cx="358.4" cy="273.3" r="0.5"/><circle cx="358.2" cy="281.1" r="0.5"/><circle cx="363.2" cy="277.3" r="0.5"/><circle cx="358.1" cy="276.7" r="0.5"/><circle cx="355.7" cy="280.4" r="0.5"/><circle cx="357.3" cy="280.8" r="0.5"/><circle cx="356.1" cy="274.7" r="0.5"/><circle cx="360.1" cy="276.0" r="0.5"/><circle cx="361.1" cy="278.0" r="0.5"/><circle cx="357.2" cy="279.6" r="0.5"/><circle cx="361.2" cy="273.0" r="0.5"/><circle cx="363.2" cy="279.3" r="0.5"/><circle cx="361.0" cy="273.2" r="0.5"/><circle cx="358.1" cy="277.1" r="0.5"/><circle cx="361.7" cy="274.2" r="0.5"/><circle cx="357.7" cy="272.7" r="0.5"/><circle cx="359.0" cy="278.9" r="0.5"/><circle cx="356.1" cy="276.5" r="0.5"/><circle cx="360.5" cy="282.1" r="0.5"/><circle cx="360.8" cy="277.2" r="0.5"/><circle cx="357.1" cy="275.6" r="0.5"/><circle cx="358.2" cy="278.4" r="0.5"/><circle cx="359.4" cy="282.3" r="0.5"/><circle cx="360.1" cy="275.2" r="0.5"/><circle cx="362.6" cy="280.5" r="0.5"/><circle cx="359.7" cy="276.1" r="0.5"/><circle cx="355.8" cy="275.3" r="0.5"/></g><g fill="#fff" opacity="0.4"><circle cx="361.7" cy="275.5" r="0.45"/><circle cx="356.3" cy="278.6" r="0.45"/><circle cx="360.1" cy="279.9" r="0.45"/><circle cx="361.1" cy="282.4" r="0.45"/><circle cx="357.5" cy="281.1" r="0.45"/><circle cx="357.1" cy="280.2" r="0.45"/><circle cx="359.9" cy="278.8" r="0.45"/><circle cx="361.8" cy="277.9" r="0.45"/><circle cx="362.2" cy="280.7" r="0.45"/><circle cx="359.8" cy="276.2" r="0.45"/><circle cx="357.7" cy="276.4" r="0.45"/><circle cx="359.0" cy="277.9" r="0.45"/><circle cx="366.7" cy="280.0" r="0.45"/><circle cx="361.3" cy="275.3" r="0.45"/><circle cx="357.8" cy="277.0" r="0.45"/><circle cx="360.0" cy="274.8" r="0.45"/><circle cx="363.4" cy="276.2" r="0.45"/><circle cx="362.1" cy="270.7" r="0.45"/><circle cx="359.5" cy="278.9" r="0.45"/><circle cx="360.0" cy="279.9" r="0.45"/><circle cx="360.2" cy="278.5" r="0.45"/><circle cx="355.0" cy="275.8" r="0.45"/></g><g fill="#777" opacity="0.35" filter="url(#b)"><circle cx="362.1" cy="285.3" r="0.4"/><circle cx="371.1" cy="272.0" r="0.4"/><circle cx="364.9" cy="277.0" r="0.4"/><circle cx="355.3" cy="285.5" r="0.4"/><circle cx="358.0" cy="279.5" r="0.4"/><circle cx="365.7" cy="285.4" r="0.4"/><circle cx="366.3" cy="276.9" r="0.4"/><circle cx="361.9" cy="273.4" r="0.4"/><circle cx="372.2" cy="286.0" r="0.4"/><circle cx="357.3" cy="271.6" r="0.4"/><circle cx="358.0" cy="276.3" r="0.4"/><circle cx="371.0" cy="284.7" r="0.4"/><circle cx="369.6" cy="271.7" r="0.4"/><circle cx="368.6" cy="281.7" r="0.4"/></g></g>
<line x1="350.9" y1="281.4" x2="375.2" y2="281.4" stroke="#777" stroke-width="0.7"/>
<rect x="350.90" y="289.4" width="24.3" height="19.00" fill="#fff" stroke="#777" stroke-width="0.8"/>
<clipPath id="c51"><rect x="351.30" y="289.79999999999995" width="23.5" height="18.20"/></clipPath>
<g clip-path="url(#c51)"><ellipse cx="359.60" cy="302.00" rx="4.44" ry="5.85" fill="url(#g2)" opacity="0.7"/><ellipse cx="359.10" cy="303.60" rx="7.40" ry="3.90" fill="url(#g)"/><ellipse cx="366.90" cy="300.80" rx="6" ry="1.2" fill="url(#g2)" opacity="0.4" transform="rotate(-14 366.90 300.80)"/><g fill="#222" opacity="0.45"><circle cx="354.2" cy="300.6" r="0.5"/><circle cx="360.6" cy="303.8" r="0.5"/><circle cx="359.3" cy="300.5" r="0.5"/><circle cx="358.1" cy="302.6" r="0.5"/><circle cx="355.1" cy="302.4" r="0.5"/><circle cx="361.1" cy="304.3" r="0.5"/><circle cx="359.0" cy="304.3" r="0.5"/><circle cx="357.4" cy="303.7" r="0.5"/><circle cx="359.2" cy="304.3" r="0.5"/><circle cx="358.9" cy="303.4" r="0.5"/><circle cx="358.7" cy="302.8" r="0.5"/><circle cx="365.4" cy="304.3" r="0.5"/><circle cx="360.3" cy="306.6" r="0.5"/><circle cx="363.0" cy="301.6" r="0.5"/><circle cx="361.0" cy="304.7" r="0.5"/><circle cx="364.4" cy="305.3" r="0.5"/><circle cx="361.3" cy="302.1" r="0.5"/><circle cx="356.7" cy="303.9" r="0.5"/><circle cx="360.5" cy="302.3" r="0.5"/><circle cx="358.0" cy="303.1" r="0.5"/><circle cx="359.3" cy="304.0" r="0.5"/><circle cx="358.3" cy="302.0" r="0.5"/><circle cx="362.6" cy="305.7" r="0.5"/><circle cx="358.8" cy="304.9" r="0.5"/><circle cx="360.3" cy="304.5" r="0.5"/><circle cx="360.4" cy="302.6" r="0.5"/><circle cx="360.7" cy="304.9" r="0.5"/><circle cx="356.6" cy="306.2" r="0.5"/><circle cx="365.0" cy="306.0" r="0.5"/><circle cx="364.7" cy="304.6" r="0.5"/><circle cx="358.2" cy="302.8" r="0.5"/><circle cx="356.8" cy="303.8" r="0.5"/><circle cx="359.0" cy="304.5" r="0.5"/><circle cx="353.4" cy="306.6" r="0.5"/><circle cx="365.5" cy="303.6" r="0.5"/><circle cx="361.0" cy="304.2" r="0.5"/><circle cx="359.9" cy="303.3" r="0.5"/><circle cx="358.8" cy="302.5" r="0.5"/><circle cx="359.6" cy="303.6" r="0.5"/><circle cx="360.0" cy="302.5" r="0.5"/><circle cx="359.2" cy="303.7" r="0.5"/><circle cx="360.8" cy="302.2" r="0.5"/><circle cx="360.3" cy="304.9" r="0.5"/><circle cx="360.8" cy="303.1" r="0.5"/><circle cx="357.7" cy="303.3" r="0.5"/></g><g fill="#fff" opacity="0.4"><circle cx="361.6" cy="306.0" r="0.45"/><circle cx="358.6" cy="302.6" r="0.45"/><circle cx="360.4" cy="303.9" r="0.45"/><circle cx="356.0" cy="302.4" r="0.45"/><circle cx="358.8" cy="304.6" r="0.45"/><circle cx="355.1" cy="302.0" r="0.45"/><circle cx="360.8" cy="301.7" r="0.45"/><circle cx="359.5" cy="304.1" r="0.45"/><circle cx="358.7" cy="302.0" r="0.45"/><circle cx="358.9" cy="303.1" r="0.45"/><circle cx="360.2" cy="302.3" r="0.45"/><circle cx="362.8" cy="301.0" r="0.45"/><circle cx="358.5" cy="303.6" r="0.45"/><circle cx="362.3" cy="302.7" r="0.45"/><circle cx="360.9" cy="302.7" r="0.45"/><circle cx="361.6" cy="306.3" r="0.45"/><circle cx="357.8" cy="304.3" r="0.45"/><circle cx="356.0" cy="305.1" r="0.45"/><circle cx="363.2" cy="303.7" r="0.45"/><circle cx="355.3" cy="304.2" r="0.45"/><circle cx="363.0" cy="305.3" r="0.45"/><circle cx="361.8" cy="300.7" r="0.45"/></g><g fill="#777" opacity="0.35" filter="url(#b)"><circle cx="359.3" cy="303.1" r="0.4"/><circle cx="360.5" cy="303.7" r="0.4"/><circle cx="354.1" cy="305.5" r="0.4"/><circle cx="372.0" cy="299.8" r="0.4"/><circle cx="363.2" cy="300.4" r="0.4"/><circle cx="363.6" cy="292.7" r="0.4"/><circle cx="372.2" cy="295.8" r="0.4"/><circle cx="356.5" cy="293.9" r="0.4"/><circle cx="357.9" cy="304.7" r="0.4"/><circle cx="353.5" cy="293.8" r="0.4"/><circle cx="366.9" cy="295.3" r="0.4"/><circle cx="353.3" cy="301.4" r="0.4"/><circle cx="364.4" cy="300.2" r="0.4"/><circle cx="367.0" cy="293.9" r="0.4"/></g></g>
<line x1="350.9" y1="303.0" x2="375.2" y2="303.0" stroke="#777" stroke-width="0.7"/>
<text x="383.4" y="266.6" font-size="6.7" text-anchor="start" font-weight="normal" fill="#111" transform="rotate(-31.5 383.4 266.6)">LPS-diffDC/maDC/Th1</text>
<rect x="377.80" y="268.0" width="24.3" height="19.10" fill="#fff" stroke="#777" stroke-width="0.8"/>
<clipPath id="c60"><rect x="378.20" y="268.4" width="23.5" height="18.30"/></clipPath>
<g clip-path="url(#c60)"><ellipse cx="386.60" cy="276.80" rx="5.32" ry="7.00" fill="url(#g2)"/><ellipse cx="386.20" cy="279.00" rx="5.60" ry="6.20" fill="url(#g)"/><ellipse cx="392.80" cy="276.90" rx="5.5" ry="1.3" fill="url(#g2)" opacity="0.45" transform="rotate(-12 392.80 276.90)"/><g fill="#222" opacity="0.45"><circle cx="388.4" cy="275.2" r="0.5"/><circle cx="387.2" cy="278.6" r="0.5"/><circle cx="383.8" cy="278.3" r="0.5"/><circle cx="386.0" cy="279.5" r="0.5"/><circle cx="385.3" cy="279.0" r="0.5"/><circle cx="382.9" cy="275.4" r="0.5"/><circle cx="387.8" cy="280.9" r="0.5"/><circle cx="386.2" cy="276.6" r="0.5"/><circle cx="388.4" cy="272.8" r="0.5"/><circle cx="384.6" cy="279.9" r="0.5"/><circle cx="387.5" cy="275.5" r="0.5"/><circle cx="382.4" cy="282.0" r="0.5"/><circle cx="386.5" cy="275.9" r="0.5"/><circle cx="386.3" cy="280.5" r="0.5"/><circle cx="381.0" cy="281.1" r="0.5"/><circle cx="387.7" cy="272.8" r="0.5"/><circle cx="387.7" cy="273.6" r="0.5"/><circle cx="388.5" cy="279.2" r="0.5"/><circle cx="390.7" cy="276.6" r="0.5"/><circle cx="386.2" cy="280.9" r="0.5"/><circle cx="384.9" cy="276.4" r="0.5"/><circle cx="385.5" cy="278.0" r="0.5"/><circle cx="384.0" cy="279.5" r="0.5"/><circle cx="387.3" cy="278.4" r="0.5"/><circle cx="389.6" cy="277.3" r="0.5"/><circle cx="388.8" cy="276.8" r="0.5"/><circle cx="387.7" cy="273.2" r="0.5"/><circle cx="386.6" cy="277.7" r="0.5"/><circle cx="385.2" cy="276.6" r="0.5"/><circle cx="385.5" cy="276.3" r="0.5"/><circle cx="381.8" cy="276.6" r="0.5"/><circle cx="385.1" cy="276.8" r="0.5"/><circle cx="384.1" cy="277.8" r="0.5"/><circle cx="387.8" cy="277.5" r="0.5"/><circle cx="385.2" cy="281.7" r="0.5"/><circle cx="388.2" cy="280.6" r="0.5"/><circle cx="388.5" cy="277.3" r="0.5"/><circle cx="385.9" cy="281.1" r="0.5"/><circle cx="385.1" cy="277.9" r="0.5"/><circle cx="387.0" cy="279.2" r="0.5"/><circle cx="385.6" cy="280.8" r="0.5"/><circle cx="385.8" cy="280.1" r="0.5"/><circle cx="388.3" cy="279.9" r="0.5"/><circle cx="387.7" cy="275.2" r="0.5"/><circle cx="383.6" cy="276.6" r="0.5"/></g><g fill="#fff" opacity="0.4"><circle cx="387.3" cy="282.9" r="0.45"/><circle cx="383.3" cy="279.2" r="0.45"/><circle cx="384.2" cy="275.9" r="0.45"/><circle cx="385.5" cy="280.4" r="0.45"/><circle cx="386.7" cy="281.9" r="0.45"/><circle cx="383.8" cy="281.0" r="0.45"/><circle cx="388.4" cy="278.4" r="0.45"/><circle cx="387.3" cy="276.4" r="0.45"/><circle cx="383.6" cy="276.9" r="0.45"/><circle cx="384.7" cy="287.2" r="0.45"/><circle cx="385.0" cy="283.3" r="0.45"/><circle cx="386.7" cy="279.2" r="0.45"/><circle cx="388.0" cy="275.8" r="0.45"/><circle cx="388.4" cy="279.4" r="0.45"/><circle cx="382.6" cy="280.1" r="0.45"/><circle cx="387.5" cy="279.6" r="0.45"/><circle cx="390.0" cy="276.9" r="0.45"/><circle cx="387.4" cy="280.5" r="0.45"/><circle cx="384.0" cy="281.9" r="0.45"/><circle cx="382.7" cy="274.1" r="0.45"/><circle cx="387.5" cy="274.8" r="0.45"/><circle cx="385.9" cy="273.1" r="0.45"/></g><g fill="#777" opacity="0.35" filter="url(#b)"><circle cx="395.0" cy="278.2" r="0.4"/><circle cx="395.5" cy="281.7" r="0.4"/><circle cx="398.1" cy="272.9" r="0.4"/><circle cx="397.2" cy="271.1" r="0.4"/><circle cx="395.1" cy="279.8" r="0.4"/><circle cx="389.8" cy="285.5" r="0.4"/><circle cx="391.2" cy="277.3" r="0.4"/><circle cx="395.5" cy="284.2" r="0.4"/><circle cx="391.9" cy="276.7" r="0.4"/><circle cx="388.8" cy="277.9" r="0.4"/><circle cx="394.3" cy="275.4" r="0.4"/><circle cx="387.6" cy="279.4" r="0.4"/><circle cx="387.5" cy="275.9" r="0.4"/><circle cx="395.5" cy="283.8" r="0.4"/></g></g>
<line x1="377.79999999999995" y1="281.4" x2="402.09999999999997" y2="281.4" stroke="#777" stroke-width="0.7"/>
<rect x="377.80" y="289.4" width="24.3" height="19.00" fill="#fff" stroke="#777" stroke-width="0.8"/>
<clipPath id="c61"><rect x="378.20" y="289.79999999999995" width="23.5" height="18.20"/></clipPath>
<g clip-path="url(#c61)"><ellipse cx="385.90" cy="301.80" rx="4.44" ry="5.85" fill="url(#g2)" opacity="0.7"/><ellipse cx="385.40" cy="303.40" rx="7.40" ry="3.90" fill="url(#g)"/><ellipse cx="393.80" cy="300.80" rx="6" ry="1.2" fill="url(#g2)" opacity="0.4" transform="rotate(-14 393.80 300.80)"/><g fill="#222" opacity="0.45"><circle cx="382.4" cy="303.4" r="0.5"/><circle cx="386.4" cy="304.4" r="0.5"/><circle cx="387.6" cy="304.7" r="0.5"/><circle cx="384.4" cy="303.1" r="0.5"/><circle cx="387.6" cy="302.8" r="0.5"/><circle cx="388.4" cy="301.3" r="0.5"/><circle cx="387.2" cy="303.2" r="0.5"/><circle cx="379.9" cy="304.7" r="0.5"/><circle cx="386.3" cy="303.4" r="0.5"/><circle cx="382.4" cy="302.8" r="0.5"/><circle cx="389.6" cy="302.3" r="0.5"/><circle cx="375.7" cy="302.3" r="0.5"/><circle cx="382.0" cy="303.2" r="0.5"/><circle cx="384.3" cy="302.2" r="0.5"/><circle cx="383.0" cy="304.8" r="0.5"/><circle cx="381.4" cy="305.9" r="0.5"/><circle cx="383.9" cy="302.0" r="0.5"/><circle cx="387.6" cy="304.1" r="0.5"/><circle cx="382.5" cy="304.4" r="0.5"/><circle cx="380.2" cy="302.2" r="0.5"/><circle cx="388.6" cy="303.1" r="0.5"/><circle cx="381.8" cy="304.1" r="0.5"/><circle cx="388.0" cy="303.4" r="0.5"/><circle cx="380.3" cy="302.9" r="0.5"/><circle cx="386.6" cy="304.4" r="0.5"/><circle cx="390.6" cy="303.1" r="0.5"/><circle cx="384.0" cy="303.4" r="0.5"/><circle cx="388.8" cy="302.2" r="0.5"/><circle cx="389.1" cy="299.8" r="0.5"/><circle cx="387.6" cy="302.5" r="0.5"/><circle cx="386.7" cy="304.3" r="0.5"/><circle cx="382.1" cy="303.3" r="0.5"/><circle cx="386.1" cy="304.2" r="0.5"/><circle cx="382.8" cy="302.1" r="0.5"/><circle cx="380.0" cy="306.7" r="0.5"/><circle cx="384.9" cy="303.1" r="0.5"/><circle cx="381.2" cy="304.6" r="0.5"/><circle cx="383.9" cy="305.3" r="0.5"/><circle cx="387.8" cy="303.4" r="0.5"/><circle cx="387.4" cy="302.0" r="0.5"/><circle cx="384.5" cy="302.7" r="0.5"/><circle cx="381.8" cy="303.4" r="0.5"/><circle cx="385.0" cy="305.3" r="0.5"/><circle cx="376.0" cy="302.5" r="0.5"/><circle cx="382.8" cy="302.8" r="0.5"/></g><g fill="#fff" opacity="0.4"><circle cx="386.8" cy="304.0" r="0.45"/><circle cx="385.5" cy="302.7" r="0.45"/><circle cx="387.1" cy="304.0" r="0.45"/><circle cx="379.2" cy="303.0" r="0.45"/><circle cx="380.8" cy="301.6" r="0.45"/><circle cx="385.9" cy="303.5" r="0.45"/><circle cx="385.8" cy="302.0" r="0.45"/><circle cx="384.7" cy="302.0" r="0.45"/><circle cx="386.7" cy="304.5" r="0.45"/><circle cx="391.3" cy="305.4" r="0.45"/><circle cx="382.7" cy="302.7" r="0.45"/><circle cx="382.2" cy="303.9" r="0.45"/><circle cx="392.1" cy="304.5" r="0.45"/><circle cx="378.0" cy="301.4" r="0.45"/><circle cx="381.1" cy="304.2" r="0.45"/><circle cx="385.4" cy="303.9" r="0.45"/><circle cx="391.4" cy="302.1" r="0.45"/><circle cx="382.6" cy="306.5" r="0.45"/><circle cx="386.6" cy="302.2" r="0.45"/><circle cx="378.6" cy="301.0" r="0.45"/><circle cx="377.2" cy="303.5" r="0.45"/><circle cx="385.5" cy="304.9" r="0.45"/></g><g fill="#777" opacity="0.35" filter="url(#b)"><circle cx="394.2" cy="295.7" r="0.4"/><circle cx="386.0" cy="305.5" r="0.4"/><circle cx="389.5" cy="304.3" r="0.4"/><circle cx="384.7" cy="295.0" r="0.4"/><circle cx="387.0" cy="295.2" r="0.4"/><circle cx="399.2" cy="296.8" r="0.4"/><circle cx="391.0" cy="294.1" r="0.4"/><circle cx="390.5" cy="298.2" r="0.4"/><circle cx="387.9" cy="293.4" r="0.4"/><circle cx="382.3" cy="304.8" r="0.4"/><circle cx="386.8" cy="296.1" r="0.4"/><circle cx="383.6" cy="296.7" r="0.4"/><circle cx="384.5" cy="292.9" r="0.4"/><circle cx="393.1" cy="297.5" r="0.4"/></g></g>
<line x1="377.79999999999995" y1="303.0" x2="402.09999999999997" y2="303.0" stroke="#777" stroke-width="0.7"/>
<line x1="408.8" y1="283.4" x2="408.8" y2="274.0" stroke="#222" stroke-width="0.8"/>
<polygon points="408.8,272.5 407.3,275.7 410.3,275.7" fill="#222"/>
<line x1="408.8" y1="303.6" x2="408.8" y2="295.1" stroke="#222" stroke-width="0.8"/>
<polygon points="408.8,293.6 407.3,296.8 410.3,296.8" fill="#222"/>
<text x="418.3" y="279.0" font-size="6.45" text-anchor="start" font-weight="normal" fill="#111">IFN-γ</text>
<text x="419.2" y="298.9" font-size="6.45" text-anchor="start" font-weight="normal" fill="#111">IL-2</text>
<line x1="216.3" y1="323.5" x2="398" y2="323.5" stroke="#444" stroke-width="0.8"/>
<polygon points="400.5,323.5 396.6,322.0 396.6,325.0" fill="#222"/>
<text x="306.6" y="334.0" font-size="6.8" text-anchor="middle" font-weight="normal" fill="#111">CD4</text>
</svg>
</body></html>
